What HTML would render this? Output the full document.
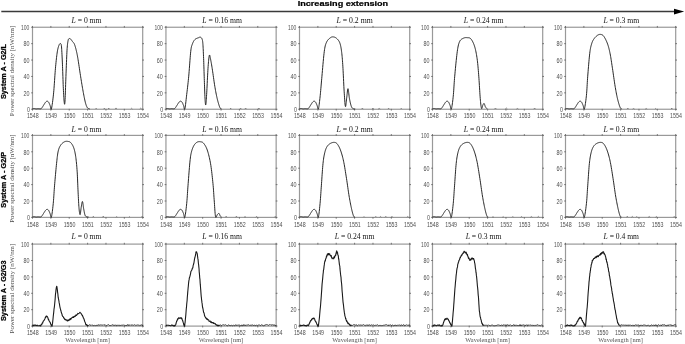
<!DOCTYPE html><html><head><meta charset="utf-8"><style>html,body{margin:0;padding:0;background:#fff;width:685px;height:344px;overflow:hidden}svg{display:block;filter:grayscale(1)}</style></head><body><svg width="685" height="344" viewBox="0 0 685 344">
<rect width="685" height="344" fill="#fff"/>
<line x1="1.3" y1="11.6" x2="675" y2="11.6" stroke="#3a3a3a" stroke-width="1.5"/>
<polygon points="674,8.8 674,14.4 684.2,11.6" fill="#000"/>
<text x="297.7" y="6.2" font-family="Liberation Sans, sans-serif" font-weight="bold" font-size="7" fill="#000" stroke="#000" stroke-width="0.2" textLength="90.5" lengthAdjust="spacingAndGlyphs">Increasing extension</text>
<rect x="32.50" y="27.25" width="110.20" height="82.00" stroke="#999" stroke-width="1.2" fill="none"/>
<path d="M32.50,108.85v1.7M32.50,27.65v-1.7M50.87,108.85v1.7M50.87,27.65v-1.7M69.23,108.85v1.7M69.23,27.65v-1.7M87.60,108.85v1.7M87.60,27.65v-1.7M105.97,108.85v1.7M105.97,27.65v-1.7M124.33,108.85v1.7M124.33,27.65v-1.7M142.70,108.85v1.7M142.70,27.65v-1.7M32.90,27.25h-1.7M142.30,27.25h1.7M32.90,43.65h-1.7M142.30,43.65h1.7M32.90,60.05h-1.7M142.30,60.05h1.7M32.90,76.45h-1.7M142.30,76.45h1.7M32.90,92.85h-1.7M142.30,92.85h1.7M32.90,109.25h-1.7M142.30,109.25h1.7" stroke="#666" stroke-width="0.9" fill="none"/>
<path d="M32.50,108.68 L32.61,108.66 L32.75,108.65 L32.92,108.62 L33.10,108.60 L33.30,108.57 L33.51,108.55 L33.73,108.53 L33.94,108.52 L34.14,108.51 L34.34,108.51 L34.52,108.53 L34.70,108.55 L34.89,108.59 L35.07,108.63 L35.25,108.68 L35.44,108.72 L35.62,108.76 L35.81,108.80 L35.99,108.82 L36.17,108.84 L36.35,108.84 L36.53,108.83 L36.70,108.82 L36.86,108.80 L37.03,108.77 L37.21,108.75 L37.39,108.72 L37.58,108.70 L37.79,108.68 L38.01,108.68 L38.25,108.68 L38.53,108.70 L38.82,108.72 L39.12,108.75 L39.42,108.78 L39.72,108.80 L40.02,108.82 L40.29,108.82 L40.54,108.80 L40.77,108.76 L40.95,108.70 L41.11,108.63 L41.24,108.56 L41.36,108.47 L41.47,108.37 L41.57,108.25 L41.67,108.12 L41.78,107.97 L41.91,107.80 L42.05,107.61 L42.21,107.39 L42.38,107.14 L42.56,106.87 L42.75,106.58 L42.93,106.27 L43.13,105.96 L43.32,105.64 L43.51,105.33 L43.70,105.03 L43.89,104.74 L44.07,104.45 L44.26,104.16 L44.45,103.86 L44.64,103.56 L44.83,103.26 L45.02,102.97 L45.20,102.70 L45.38,102.45 L45.56,102.23 L45.72,102.03 L45.89,101.87 L46.04,101.72 L46.19,101.59 L46.34,101.48 L46.48,101.39 L46.62,101.32 L46.76,101.26 L46.91,101.23 L47.05,101.21 L47.19,101.21 L47.34,101.23 L47.49,101.27 L47.63,101.33 L47.78,101.40 L47.93,101.49 L48.07,101.60 L48.22,101.74 L48.37,101.89 L48.52,102.08 L48.66,102.28 L48.81,102.52 L48.96,102.79 L49.11,103.10 L49.26,103.43 L49.41,103.78 L49.56,104.14 L49.70,104.51 L49.85,104.87 L49.99,105.22 L50.13,105.56 L50.26,105.97 L50.39,106.52 L50.50,107.15 L50.62,107.80 L50.73,108.40 L50.85,108.92 L50.97,109.25 L51.10,109.25 L51.25,109.25 L51.42,108.84 L51.60,108.06 L51.81,107.01 L52.02,105.73 L52.25,104.24 L52.49,102.59 L52.72,100.79 L52.96,98.89 L53.19,96.91 L53.41,94.88 L53.62,92.85 L53.82,90.70 L54.01,88.35 L54.20,85.84 L54.38,83.24 L54.56,80.58 L54.74,77.91 L54.92,75.30 L55.10,72.78 L55.28,70.42 L55.46,68.25 L55.64,66.24 L55.83,64.29 L56.01,62.43 L56.19,60.65 L56.38,58.95 L56.56,57.34 L56.74,55.82 L56.93,54.40 L57.11,53.07 L57.29,51.85 L57.48,50.75 L57.67,49.76 L57.86,48.89 L58.05,48.11 L58.24,47.42 L58.42,46.80 L58.61,46.25 L58.79,45.76 L58.96,45.30 L59.13,44.88 L59.30,44.50 L59.46,44.19 L59.62,43.95 L59.77,43.76 L59.92,43.62 L60.07,43.54 L60.21,43.51 L60.35,43.52 L60.48,43.56 L60.60,43.65 L60.72,43.73 L60.82,43.79 L60.92,43.86 L61.01,43.97 L61.09,44.14 L61.18,44.40 L61.26,44.78 L61.34,45.31 L61.43,46.02 L61.52,46.93 L61.61,48.05 L61.70,49.36 L61.79,50.84 L61.89,52.46 L61.98,54.21 L62.07,56.06 L62.16,58.00 L62.25,60.01 L62.35,62.07 L62.44,64.15 L62.53,66.36 L62.62,68.77 L62.71,71.32 L62.81,73.97 L62.90,76.66 L62.99,79.32 L63.08,81.92 L63.17,84.39 L63.26,86.69 L63.36,88.75 L63.45,90.65 L63.54,92.47 L63.64,94.21 L63.73,95.84 L63.83,97.36 L63.92,98.75 L64.01,99.99 L64.10,101.07 L64.19,101.97 L64.27,102.69 L64.35,103.26 L64.43,103.73 L64.50,104.07 L64.57,104.26 L64.64,104.28 L64.71,104.11 L64.78,103.72 L64.85,103.10 L64.93,102.21 L65.01,101.05 L65.09,99.53 L65.18,97.63 L65.27,95.41 L65.35,92.94 L65.45,90.29 L65.54,87.51 L65.63,84.67 L65.73,81.84 L65.83,79.08 L65.93,76.45 L66.03,73.82 L66.14,71.04 L66.24,68.18 L66.35,65.28 L66.47,62.41 L66.58,59.60 L66.69,56.93 L66.81,54.43 L66.92,52.18 L67.03,50.21 L67.14,48.53 L67.25,47.06 L67.35,45.80 L67.46,44.71 L67.57,43.76 L67.68,42.94 L67.79,42.21 L67.90,41.56 L68.01,40.95 L68.13,40.37 L68.25,39.85 L68.38,39.46 L68.50,39.16 L68.63,38.96 L68.76,38.82 L68.89,38.73 L69.03,38.68 L69.16,38.65 L69.29,38.61 L69.42,38.57 L69.54,38.52 L69.67,38.50 L69.79,38.50 L69.90,38.53 L70.03,38.59 L70.15,38.66 L70.28,38.75 L70.41,38.87 L70.55,39.00 L70.70,39.14 L70.86,39.31 L71.03,39.51 L71.21,39.74 L71.40,39.99 L71.59,40.25 L71.78,40.53 L71.97,40.80 L72.16,41.08 L72.35,41.35 L72.54,41.60 L72.72,41.83 L72.91,42.03 L73.09,42.22 L73.27,42.41 L73.46,42.60 L73.64,42.81 L73.82,43.05 L74.01,43.33 L74.19,43.66 L74.38,44.06 L74.56,44.52 L74.75,45.02 L74.93,45.57 L75.12,46.16 L75.31,46.78 L75.49,47.43 L75.68,48.10 L75.86,48.79 L76.04,49.50 L76.21,50.21 L76.38,50.91 L76.54,51.58 L76.69,52.25 L76.84,52.93 L76.99,53.64 L77.15,54.41 L77.31,55.25 L77.48,56.18 L77.66,57.23 L77.87,58.41 L78.09,59.76 L78.32,61.27 L78.58,62.91 L78.84,64.66 L79.11,66.46 L79.38,68.30 L79.65,70.14 L79.92,71.94 L80.18,73.67 L80.44,75.30 L80.68,76.86 L80.93,78.40 L81.17,79.91 L81.41,81.40 L81.64,82.86 L81.88,84.30 L82.11,85.72 L82.35,87.11 L82.59,88.47 L82.82,89.82 L83.07,91.15 L83.31,92.49 L83.56,93.82 L83.81,95.14 L84.05,96.42 L84.30,97.65 L84.54,98.83 L84.77,99.93 L85.00,100.95 L85.21,101.87 L85.42,102.69 L85.62,103.43 L85.81,104.09 L86.00,104.68 L86.18,105.20 L86.35,105.67 L86.53,106.10 L86.70,106.49 L86.88,106.86 L87.05,107.20 L87.22,107.50 L87.40,107.75 L87.58,107.94 L87.75,108.09 L87.92,108.21 L88.09,108.30 L88.25,108.38 L88.41,108.45 L88.56,108.52 L88.70,108.59 L88.84,108.67 L88.98,108.73 L89.11,108.78 L89.24,108.82 L89.36,108.85 L89.47,108.87 L89.57,108.88 L89.66,108.89 L89.74,108.91 L89.80,108.92" stroke="#1a1a1a" stroke-width="0.95" fill="none" stroke-linejoin="round"/>
<path d="M95.44,109.09L96.14,108.24L96.84,109.09M103.78,109.09L104.28,108.18L104.78,109.09M108.12,109.09L108.75,108.04L109.37,109.09M115.24,109.09L116.00,107.94L116.76,109.09M130.72,109.09L131.59,108.28L132.46,109.09M139.68,109.09L140.70,108.18L141.72,109.09" stroke="#555" stroke-width="0.6" fill="none"/>
<text x="21.00" y="29.95" font-family="Liberation Sans, sans-serif" font-size="6.4" fill="#505050" textLength="8.4" lengthAdjust="spacingAndGlyphs">100</text>
<text x="23.40" y="46.35" font-family="Liberation Sans, sans-serif" font-size="6.4" fill="#505050" textLength="6.0" lengthAdjust="spacingAndGlyphs">80</text>
<text x="23.40" y="62.75" font-family="Liberation Sans, sans-serif" font-size="6.4" fill="#505050" textLength="6.0" lengthAdjust="spacingAndGlyphs">60</text>
<text x="23.40" y="79.15" font-family="Liberation Sans, sans-serif" font-size="6.4" fill="#505050" textLength="6.0" lengthAdjust="spacingAndGlyphs">40</text>
<text x="23.40" y="95.55" font-family="Liberation Sans, sans-serif" font-size="6.4" fill="#505050" textLength="6.0" lengthAdjust="spacingAndGlyphs">20</text>
<text x="26.90" y="111.95" font-family="Liberation Sans, sans-serif" font-size="6.4" fill="#505050" textLength="3.0" lengthAdjust="spacingAndGlyphs">0</text>
<text x="26.90" y="117.95" font-family="Liberation Sans, sans-serif" font-size="6.4" fill="#505050" textLength="11.8" lengthAdjust="spacingAndGlyphs">1548</text>
<text x="45.27" y="117.95" font-family="Liberation Sans, sans-serif" font-size="6.4" fill="#505050" textLength="11.8" lengthAdjust="spacingAndGlyphs">1549</text>
<text x="63.63" y="117.95" font-family="Liberation Sans, sans-serif" font-size="6.4" fill="#505050" textLength="11.8" lengthAdjust="spacingAndGlyphs">1550</text>
<text x="82.00" y="117.95" font-family="Liberation Sans, sans-serif" font-size="6.4" fill="#505050" textLength="11.8" lengthAdjust="spacingAndGlyphs">1551</text>
<text x="100.37" y="117.95" font-family="Liberation Sans, sans-serif" font-size="6.4" fill="#505050" textLength="11.8" lengthAdjust="spacingAndGlyphs">1552</text>
<text x="118.73" y="117.95" font-family="Liberation Sans, sans-serif" font-size="6.4" fill="#505050" textLength="11.8" lengthAdjust="spacingAndGlyphs">1553</text>
<text x="137.10" y="117.95" font-family="Liberation Sans, sans-serif" font-size="6.4" fill="#505050" textLength="11.8" lengthAdjust="spacingAndGlyphs">1554</text>
<text x="71.55" y="22.75" font-family="Liberation Serif, serif" font-size="8.7" fill="#111" textLength="29.9" lengthAdjust="spacingAndGlyphs"><tspan font-style="italic">L</tspan> = 0 mm</text>
<rect x="165.95" y="27.25" width="110.20" height="82.00" stroke="#999" stroke-width="1.2" fill="none"/>
<path d="M165.95,108.85v1.7M165.95,27.65v-1.7M184.32,108.85v1.7M184.32,27.65v-1.7M202.68,108.85v1.7M202.68,27.65v-1.7M221.05,108.85v1.7M221.05,27.65v-1.7M239.42,108.85v1.7M239.42,27.65v-1.7M257.78,108.85v1.7M257.78,27.65v-1.7M276.15,108.85v1.7M276.15,27.65v-1.7M166.35,27.25h-1.7M275.75,27.25h1.7M166.35,43.65h-1.7M275.75,43.65h1.7M166.35,60.05h-1.7M275.75,60.05h1.7M166.35,76.45h-1.7M275.75,76.45h1.7M166.35,92.85h-1.7M275.75,92.85h1.7M166.35,109.25h-1.7M275.75,109.25h1.7" stroke="#666" stroke-width="0.9" fill="none"/>
<path d="M165.95,108.68 L166.06,108.66 L166.20,108.65 L166.37,108.62 L166.55,108.60 L166.75,108.57 L166.96,108.55 L167.18,108.53 L167.39,108.52 L167.59,108.51 L167.79,108.51 L167.97,108.53 L168.15,108.55 L168.34,108.59 L168.52,108.63 L168.70,108.68 L168.89,108.72 L169.07,108.76 L169.26,108.80 L169.44,108.82 L169.62,108.84 L169.80,108.84 L169.98,108.83 L170.15,108.82 L170.31,108.80 L170.48,108.77 L170.66,108.75 L170.84,108.72 L171.03,108.70 L171.24,108.68 L171.46,108.68 L171.70,108.68 L171.98,108.70 L172.27,108.72 L172.57,108.75 L172.87,108.78 L173.17,108.80 L173.47,108.82 L173.74,108.82 L173.99,108.80 L174.22,108.76 L174.40,108.70 L174.56,108.63 L174.69,108.56 L174.81,108.47 L174.92,108.37 L175.02,108.25 L175.12,108.12 L175.23,107.97 L175.36,107.80 L175.50,107.61 L175.66,107.39 L175.83,107.14 L176.01,106.87 L176.20,106.58 L176.38,106.27 L176.58,105.96 L176.77,105.64 L176.96,105.33 L177.15,105.03 L177.34,104.74 L177.52,104.45 L177.71,104.16 L177.90,103.86 L178.09,103.56 L178.28,103.26 L178.47,102.97 L178.65,102.70 L178.83,102.45 L179.01,102.23 L179.17,102.03 L179.34,101.87 L179.49,101.72 L179.64,101.59 L179.79,101.48 L179.93,101.39 L180.07,101.32 L180.21,101.26 L180.36,101.23 L180.50,101.21 L180.64,101.21 L180.79,101.23 L180.94,101.27 L181.08,101.33 L181.23,101.40 L181.38,101.49 L181.52,101.60 L181.67,101.74 L181.82,101.89 L181.97,102.08 L182.11,102.28 L182.26,102.52 L182.41,102.79 L182.56,103.10 L182.71,103.43 L182.86,103.78 L183.01,104.14 L183.15,104.51 L183.30,104.87 L183.44,105.22 L183.58,105.56 L183.72,105.97 L183.84,106.50 L183.96,107.10 L184.08,107.72 L184.20,108.30 L184.32,108.80 L184.45,109.15 L184.58,109.25 L184.72,109.23 L184.87,108.84 L185.03,108.14 L185.20,107.16 L185.37,105.95 L185.55,104.56 L185.74,103.01 L185.93,101.36 L186.12,99.64 L186.32,97.89 L186.51,96.16 L186.70,94.49 L186.90,92.85 L187.10,91.19 L187.30,89.50 L187.50,87.77 L187.70,86.00 L187.91,84.18 L188.11,82.30 L188.32,80.34 L188.52,78.32 L188.72,76.20 L188.93,73.91 L189.13,71.38 L189.34,68.68 L189.55,65.90 L189.76,63.10 L189.96,60.35 L190.17,57.73 L190.36,55.31 L190.56,53.16 L190.74,51.36 L190.92,49.90 L191.08,48.72 L191.24,47.77 L191.39,47.01 L191.54,46.40 L191.69,45.88 L191.85,45.43 L192.01,44.99 L192.20,44.52 L192.40,43.98 L192.61,43.40 L192.84,42.85 L193.07,42.33 L193.31,41.84 L193.56,41.37 L193.82,40.94 L194.09,40.53 L194.37,40.15 L194.66,39.80 L194.97,39.47 L195.30,39.17 L195.67,38.91 L196.05,38.69 L196.46,38.49 L196.86,38.31 L197.27,38.16 L197.65,38.02 L198.02,37.90 L198.35,37.78 L198.64,37.66 L198.89,37.55 L199.10,37.45 L199.29,37.36 L199.45,37.27 L199.60,37.21 L199.73,37.16 L199.86,37.13 L200.00,37.12 L200.14,37.13 L200.30,37.17 L200.46,37.23 L200.64,37.30 L200.81,37.38 L200.99,37.49 L201.17,37.61 L201.34,37.77 L201.51,37.95 L201.67,38.17 L201.81,38.43 L201.95,38.73 L202.07,39.04 L202.18,39.34 L202.28,39.65 L202.38,39.98 L202.47,40.36 L202.55,40.81 L202.63,41.34 L202.71,41.98 L202.79,42.74 L202.87,43.65 L202.95,44.69 L203.03,45.85 L203.10,47.12 L203.17,48.49 L203.25,49.95 L203.32,51.50 L203.39,53.13 L203.46,54.83 L203.53,56.59 L203.60,58.41 L203.68,60.34 L203.75,62.42 L203.82,64.61 L203.90,66.89 L203.97,69.22 L204.04,71.58 L204.12,73.92 L204.19,76.21 L204.26,78.44 L204.34,80.55 L204.41,82.63 L204.48,84.75 L204.56,86.88 L204.63,88.98 L204.70,91.03 L204.78,93.00 L204.85,94.85 L204.92,96.56 L205.00,98.09 L205.07,99.41 L205.14,100.57 L205.21,101.62 L205.29,102.55 L205.36,103.34 L205.43,104.00 L205.50,104.50 L205.57,104.83 L205.65,104.99 L205.72,104.97 L205.81,104.74 L205.89,104.31 L205.97,103.67 L206.06,102.84 L206.14,101.83 L206.23,100.67 L206.32,99.35 L206.42,97.89 L206.51,96.32 L206.62,94.63 L206.72,92.85 L206.84,90.85 L206.96,88.55 L207.08,86.03 L207.21,83.35 L207.34,80.60 L207.48,77.84 L207.61,75.16 L207.75,72.61 L207.88,70.29 L208.01,68.25 L208.14,66.43 L208.27,64.70 L208.40,63.07 L208.53,61.56 L208.66,60.18 L208.79,58.93 L208.92,57.83 L209.05,56.89 L209.17,56.13 L209.30,55.54 L209.41,55.16 L209.52,55.00 L209.62,55.02 L209.71,55.21 L209.81,55.53 L209.91,55.98 L210.02,56.51 L210.13,57.11 L210.26,57.75 L210.40,58.41 L210.55,59.11 L210.71,59.88 L210.87,60.73 L211.04,61.66 L211.22,62.66 L211.41,63.73 L211.61,64.88 L211.81,66.09 L212.02,67.38 L212.23,68.74 L212.46,70.23 L212.70,71.87 L212.96,73.64 L213.22,75.49 L213.49,77.39 L213.75,79.30 L214.02,81.18 L214.29,83.00 L214.55,84.72 L214.81,86.29 L215.05,87.75 L215.29,89.14 L215.53,90.48 L215.76,91.76 L216.00,92.99 L216.23,94.18 L216.47,95.33 L216.71,96.44 L216.95,97.53 L217.19,98.59 L217.45,99.64 L217.71,100.67 L217.98,101.69 L218.25,102.67 L218.52,103.61 L218.79,104.49 L219.05,105.31 L219.31,106.06 L219.54,106.72 L219.76,107.28 L219.97,107.73 L220.18,108.08 L220.38,108.32 L220.57,108.49 L220.75,108.60 L220.92,108.67 L221.07,108.71 L221.21,108.74 L221.32,108.78 L221.42,108.84" stroke="#1a1a1a" stroke-width="0.95" fill="none" stroke-linejoin="round"/>
<path d="M230.17,109.09L230.67,108.15L231.17,109.09M240.07,109.09L240.73,108.21L241.38,109.09M244.86,109.09L245.63,108.03L246.39,109.09M257.98,109.09L258.90,108.02L259.81,109.09" stroke="#555" stroke-width="0.6" fill="none"/>
<text x="154.45" y="29.95" font-family="Liberation Sans, sans-serif" font-size="6.4" fill="#505050" textLength="8.4" lengthAdjust="spacingAndGlyphs">100</text>
<text x="156.85" y="46.35" font-family="Liberation Sans, sans-serif" font-size="6.4" fill="#505050" textLength="6.0" lengthAdjust="spacingAndGlyphs">80</text>
<text x="156.85" y="62.75" font-family="Liberation Sans, sans-serif" font-size="6.4" fill="#505050" textLength="6.0" lengthAdjust="spacingAndGlyphs">60</text>
<text x="156.85" y="79.15" font-family="Liberation Sans, sans-serif" font-size="6.4" fill="#505050" textLength="6.0" lengthAdjust="spacingAndGlyphs">40</text>
<text x="156.85" y="95.55" font-family="Liberation Sans, sans-serif" font-size="6.4" fill="#505050" textLength="6.0" lengthAdjust="spacingAndGlyphs">20</text>
<text x="160.35" y="111.95" font-family="Liberation Sans, sans-serif" font-size="6.4" fill="#505050" textLength="3.0" lengthAdjust="spacingAndGlyphs">0</text>
<text x="160.35" y="117.95" font-family="Liberation Sans, sans-serif" font-size="6.4" fill="#505050" textLength="11.8" lengthAdjust="spacingAndGlyphs">1548</text>
<text x="178.72" y="117.95" font-family="Liberation Sans, sans-serif" font-size="6.4" fill="#505050" textLength="11.8" lengthAdjust="spacingAndGlyphs">1549</text>
<text x="197.08" y="117.95" font-family="Liberation Sans, sans-serif" font-size="6.4" fill="#505050" textLength="11.8" lengthAdjust="spacingAndGlyphs">1550</text>
<text x="215.45" y="117.95" font-family="Liberation Sans, sans-serif" font-size="6.4" fill="#505050" textLength="11.8" lengthAdjust="spacingAndGlyphs">1551</text>
<text x="233.82" y="117.95" font-family="Liberation Sans, sans-serif" font-size="6.4" fill="#505050" textLength="11.8" lengthAdjust="spacingAndGlyphs">1552</text>
<text x="252.18" y="117.95" font-family="Liberation Sans, sans-serif" font-size="6.4" fill="#505050" textLength="11.8" lengthAdjust="spacingAndGlyphs">1553</text>
<text x="270.55" y="117.95" font-family="Liberation Sans, sans-serif" font-size="6.4" fill="#505050" textLength="11.8" lengthAdjust="spacingAndGlyphs">1554</text>
<text x="202.35" y="22.75" font-family="Liberation Serif, serif" font-size="8.7" fill="#111" textLength="39.7" lengthAdjust="spacingAndGlyphs"><tspan font-style="italic">L</tspan> = 0.16 mm</text>
<rect x="299.50" y="27.25" width="110.20" height="82.00" stroke="#999" stroke-width="1.2" fill="none"/>
<path d="M299.50,108.85v1.7M299.50,27.65v-1.7M317.87,108.85v1.7M317.87,27.65v-1.7M336.23,108.85v1.7M336.23,27.65v-1.7M354.60,108.85v1.7M354.60,27.65v-1.7M372.97,108.85v1.7M372.97,27.65v-1.7M391.33,108.85v1.7M391.33,27.65v-1.7M409.70,108.85v1.7M409.70,27.65v-1.7M299.90,27.25h-1.7M409.30,27.25h1.7M299.90,43.65h-1.7M409.30,43.65h1.7M299.90,60.05h-1.7M409.30,60.05h1.7M299.90,76.45h-1.7M409.30,76.45h1.7M299.90,92.85h-1.7M409.30,92.85h1.7M299.90,109.25h-1.7M409.30,109.25h1.7" stroke="#666" stroke-width="0.9" fill="none"/>
<path d="M299.50,108.68 L299.61,108.66 L299.75,108.65 L299.92,108.62 L300.10,108.60 L300.30,108.57 L300.51,108.55 L300.73,108.53 L300.94,108.52 L301.14,108.51 L301.34,108.51 L301.52,108.53 L301.70,108.55 L301.89,108.59 L302.07,108.63 L302.25,108.68 L302.44,108.72 L302.62,108.76 L302.81,108.80 L302.99,108.82 L303.17,108.84 L303.35,108.84 L303.53,108.83 L303.70,108.82 L303.86,108.80 L304.03,108.77 L304.21,108.75 L304.39,108.72 L304.58,108.70 L304.79,108.68 L305.01,108.68 L305.25,108.68 L305.53,108.70 L305.82,108.72 L306.12,108.75 L306.42,108.78 L306.72,108.80 L307.02,108.82 L307.29,108.82 L307.54,108.80 L307.77,108.76 L307.95,108.70 L308.11,108.63 L308.24,108.56 L308.36,108.47 L308.47,108.37 L308.57,108.25 L308.67,108.12 L308.78,107.97 L308.91,107.80 L309.05,107.61 L309.21,107.39 L309.38,107.14 L309.56,106.87 L309.75,106.58 L309.93,106.27 L310.13,105.96 L310.32,105.64 L310.51,105.33 L310.70,105.03 L310.89,104.74 L311.07,104.45 L311.26,104.16 L311.45,103.86 L311.64,103.56 L311.83,103.26 L312.02,102.97 L312.20,102.70 L312.38,102.45 L312.56,102.23 L312.72,102.03 L312.89,101.87 L313.04,101.72 L313.19,101.59 L313.34,101.48 L313.48,101.39 L313.62,101.32 L313.76,101.26 L313.91,101.23 L314.05,101.21 L314.19,101.21 L314.34,101.23 L314.49,101.27 L314.63,101.33 L314.78,101.40 L314.93,101.49 L315.07,101.60 L315.22,101.74 L315.37,101.89 L315.52,102.08 L315.66,102.28 L315.81,102.52 L315.96,102.79 L316.11,103.10 L316.26,103.43 L316.41,103.78 L316.56,104.14 L316.70,104.51 L316.85,104.87 L316.99,105.22 L317.13,105.56 L317.27,105.96 L317.40,106.46 L317.52,107.02 L317.64,107.60 L317.76,108.15 L317.89,108.62 L318.01,108.97 L318.14,109.15 L318.28,109.13 L318.42,108.84 L318.57,108.29 L318.72,107.54 L318.89,106.59 L319.05,105.48 L319.22,104.24 L319.39,102.89 L319.56,101.46 L319.73,99.98 L319.90,98.47 L320.07,96.95 L320.23,95.42 L320.39,93.85 L320.54,92.22 L320.69,90.53 L320.84,88.77 L321.00,86.93 L321.16,85.01 L321.33,83.00 L321.52,80.89 L321.72,78.66 L321.94,76.22 L322.18,73.49 L322.43,70.57 L322.69,67.53 L322.96,64.46 L323.24,61.43 L323.51,58.52 L323.78,55.82 L324.04,53.41 L324.29,51.36 L324.53,49.67 L324.76,48.25 L324.98,47.05 L325.19,46.05 L325.41,45.20 L325.63,44.47 L325.86,43.81 L326.11,43.20 L326.39,42.58 L326.68,41.93 L327.01,41.28 L327.37,40.69 L327.76,40.16 L328.16,39.68 L328.58,39.25 L328.99,38.87 L329.40,38.52 L329.80,38.21 L330.18,37.92 L330.54,37.66 L330.87,37.44 L331.18,37.26 L331.48,37.11 L331.77,37.01 L332.05,36.94 L332.33,36.89 L332.61,36.87 L332.89,36.88 L333.18,36.89 L333.48,36.93 L333.78,36.97 L334.09,37.03 L334.40,37.12 L334.71,37.22 L335.03,37.35 L335.34,37.50 L335.66,37.68 L335.97,37.89 L336.29,38.13 L336.60,38.40 L336.92,38.70 L337.25,39.01 L337.58,39.34 L337.91,39.69 L338.24,40.08 L338.57,40.51 L338.88,40.97 L339.18,41.49 L339.46,42.05 L339.72,42.67 L339.96,43.33 L340.18,44.02 L340.39,44.75 L340.58,45.53 L340.76,46.35 L340.93,47.23 L341.09,48.16 L341.25,49.16 L341.40,50.22 L341.56,51.36 L341.71,52.55 L341.85,53.77 L341.99,55.04 L342.11,56.37 L342.24,57.76 L342.36,59.24 L342.48,60.81 L342.60,62.49 L342.72,64.28 L342.85,66.20 L342.97,68.33 L343.10,70.69 L343.23,73.24 L343.36,75.90 L343.49,78.63 L343.62,81.36 L343.75,84.03 L343.87,86.59 L344.00,88.98 L344.13,91.13 L344.26,93.16 L344.39,95.21 L344.52,97.21 L344.65,99.14 L344.77,100.94 L344.90,102.58 L345.03,104.00 L345.16,105.16 L345.29,106.02 L345.42,106.54 L345.55,106.65 L345.67,106.34 L345.80,105.70 L345.93,104.79 L346.06,103.69 L346.19,102.46 L346.32,101.19 L346.45,99.93 L346.57,98.77 L346.70,97.77 L346.83,96.79 L346.96,95.67 L347.08,94.46 L347.21,93.24 L347.33,92.05 L347.46,90.95 L347.59,90.01 L347.72,89.28 L347.85,88.81 L347.99,88.67 L348.13,88.90 L348.26,89.46 L348.40,90.30 L348.54,91.35 L348.68,92.55 L348.82,93.83 L348.97,95.14 L349.13,96.41 L349.29,97.58 L349.46,98.59 L349.64,99.51 L349.82,100.44 L350.02,101.37 L350.22,102.29 L350.42,103.18 L350.63,104.04 L350.84,104.84 L351.05,105.57 L351.27,106.23 L351.48,106.79 L351.69,107.25 L351.92,107.63 L352.15,107.92 L352.38,108.15 L352.61,108.33 L352.84,108.46 L353.07,108.57 L353.28,108.66 L353.49,108.75 L353.68,108.84 L353.86,108.92 L354.05,108.97 L354.22,108.99 L354.39,108.99 L354.55,108.97 L354.70,108.94 L354.84,108.90 L354.96,108.87 L355.07,108.85 L355.15,108.84" stroke="#1a1a1a" stroke-width="0.95" fill="none" stroke-linejoin="round"/>
<path d="M361.62,109.09L362.36,108.07L363.11,109.09M372.40,109.09L372.92,108.02L373.44,109.09M378.14,109.09L379.22,108.45L380.30,109.09M387.97,109.09L388.62,108.18L389.27,109.09M400.54,109.09L401.23,108.34L401.91,109.09" stroke="#555" stroke-width="0.6" fill="none"/>
<text x="288.00" y="29.95" font-family="Liberation Sans, sans-serif" font-size="6.4" fill="#505050" textLength="8.4" lengthAdjust="spacingAndGlyphs">100</text>
<text x="290.40" y="46.35" font-family="Liberation Sans, sans-serif" font-size="6.4" fill="#505050" textLength="6.0" lengthAdjust="spacingAndGlyphs">80</text>
<text x="290.40" y="62.75" font-family="Liberation Sans, sans-serif" font-size="6.4" fill="#505050" textLength="6.0" lengthAdjust="spacingAndGlyphs">60</text>
<text x="290.40" y="79.15" font-family="Liberation Sans, sans-serif" font-size="6.4" fill="#505050" textLength="6.0" lengthAdjust="spacingAndGlyphs">40</text>
<text x="290.40" y="95.55" font-family="Liberation Sans, sans-serif" font-size="6.4" fill="#505050" textLength="6.0" lengthAdjust="spacingAndGlyphs">20</text>
<text x="293.90" y="111.95" font-family="Liberation Sans, sans-serif" font-size="6.4" fill="#505050" textLength="3.0" lengthAdjust="spacingAndGlyphs">0</text>
<text x="293.90" y="117.95" font-family="Liberation Sans, sans-serif" font-size="6.4" fill="#505050" textLength="11.8" lengthAdjust="spacingAndGlyphs">1548</text>
<text x="312.27" y="117.95" font-family="Liberation Sans, sans-serif" font-size="6.4" fill="#505050" textLength="11.8" lengthAdjust="spacingAndGlyphs">1549</text>
<text x="330.63" y="117.95" font-family="Liberation Sans, sans-serif" font-size="6.4" fill="#505050" textLength="11.8" lengthAdjust="spacingAndGlyphs">1550</text>
<text x="349.00" y="117.95" font-family="Liberation Sans, sans-serif" font-size="6.4" fill="#505050" textLength="11.8" lengthAdjust="spacingAndGlyphs">1551</text>
<text x="367.37" y="117.95" font-family="Liberation Sans, sans-serif" font-size="6.4" fill="#505050" textLength="11.8" lengthAdjust="spacingAndGlyphs">1552</text>
<text x="385.73" y="117.95" font-family="Liberation Sans, sans-serif" font-size="6.4" fill="#505050" textLength="11.8" lengthAdjust="spacingAndGlyphs">1553</text>
<text x="404.10" y="117.95" font-family="Liberation Sans, sans-serif" font-size="6.4" fill="#505050" textLength="11.8" lengthAdjust="spacingAndGlyphs">1554</text>
<text x="336.50" y="22.75" font-family="Liberation Serif, serif" font-size="8.7" fill="#111" textLength="36.2" lengthAdjust="spacingAndGlyphs"><tspan font-style="italic">L</tspan> = 0.2 mm</text>
<rect x="432.50" y="27.25" width="110.20" height="82.00" stroke="#999" stroke-width="1.2" fill="none"/>
<path d="M432.50,108.85v1.7M432.50,27.65v-1.7M450.87,108.85v1.7M450.87,27.65v-1.7M469.23,108.85v1.7M469.23,27.65v-1.7M487.60,108.85v1.7M487.60,27.65v-1.7M505.97,108.85v1.7M505.97,27.65v-1.7M524.33,108.85v1.7M524.33,27.65v-1.7M542.70,108.85v1.7M542.70,27.65v-1.7M432.90,27.25h-1.7M542.30,27.25h1.7M432.90,43.65h-1.7M542.30,43.65h1.7M432.90,60.05h-1.7M542.30,60.05h1.7M432.90,76.45h-1.7M542.30,76.45h1.7M432.90,92.85h-1.7M542.30,92.85h1.7M432.90,109.25h-1.7M542.30,109.25h1.7" stroke="#666" stroke-width="0.9" fill="none"/>
<path d="M432.50,108.68 L432.61,108.66 L432.75,108.65 L432.92,108.62 L433.10,108.60 L433.30,108.57 L433.51,108.55 L433.73,108.53 L433.94,108.52 L434.14,108.51 L434.34,108.51 L434.52,108.53 L434.70,108.55 L434.89,108.59 L435.07,108.63 L435.25,108.68 L435.44,108.72 L435.62,108.76 L435.81,108.80 L435.99,108.82 L436.17,108.84 L436.35,108.84 L436.53,108.83 L436.70,108.82 L436.86,108.80 L437.03,108.77 L437.21,108.75 L437.39,108.72 L437.58,108.70 L437.79,108.68 L438.01,108.68 L438.25,108.68 L438.53,108.70 L438.82,108.72 L439.12,108.75 L439.42,108.78 L439.72,108.80 L440.02,108.82 L440.29,108.82 L440.54,108.80 L440.77,108.76 L440.95,108.70 L441.11,108.63 L441.24,108.56 L441.36,108.47 L441.47,108.37 L441.57,108.25 L441.67,108.12 L441.78,107.97 L441.91,107.80 L442.05,107.61 L442.21,107.39 L442.38,107.14 L442.56,106.87 L442.75,106.58 L442.93,106.27 L443.13,105.96 L443.32,105.64 L443.51,105.33 L443.70,105.03 L443.89,104.74 L444.07,104.45 L444.26,104.16 L444.45,103.86 L444.64,103.56 L444.83,103.26 L445.02,102.97 L445.20,102.70 L445.38,102.45 L445.56,102.23 L445.72,102.03 L445.89,101.87 L446.04,101.72 L446.19,101.59 L446.34,101.48 L446.48,101.39 L446.62,101.32 L446.76,101.26 L446.91,101.23 L447.05,101.21 L447.19,101.21 L447.34,101.23 L447.49,101.27 L447.63,101.33 L447.78,101.40 L447.93,101.49 L448.07,101.60 L448.22,101.74 L448.37,101.89 L448.52,102.08 L448.66,102.28 L448.81,102.52 L448.96,102.79 L449.11,103.10 L449.26,103.43 L449.41,103.78 L449.56,104.14 L449.70,104.51 L449.85,104.87 L449.99,105.22 L450.13,105.56 L450.27,105.96 L450.39,106.47 L450.51,107.05 L450.63,107.64 L450.75,108.20 L450.87,108.68 L451.00,109.03 L451.13,109.21 L451.27,109.16 L451.42,108.84 L451.58,108.25 L451.76,107.44 L451.94,106.43 L452.13,105.25 L452.32,103.94 L452.52,102.50 L452.71,100.98 L452.90,99.39 L453.08,97.77 L453.25,96.13 L453.41,94.45 L453.55,92.69 L453.69,90.84 L453.82,88.92 L453.94,86.93 L454.07,84.88 L454.21,82.77 L454.37,80.62 L454.53,78.43 L454.72,76.20 L454.94,73.85 L455.17,71.31 L455.42,68.64 L455.68,65.90 L455.95,63.16 L456.23,60.46 L456.50,57.87 L456.77,55.45 L457.04,53.26 L457.29,51.36 L457.53,49.73 L457.76,48.31 L457.98,47.08 L458.19,46.00 L458.41,45.05 L458.63,44.21 L458.86,43.45 L459.11,42.76 L459.39,42.09 L459.68,41.44 L460.01,40.83 L460.36,40.31 L460.74,39.88 L461.13,39.51 L461.53,39.21 L461.94,38.95 L462.35,38.73 L462.76,38.53 L463.15,38.34 L463.54,38.16 L463.91,37.99 L464.29,37.85 L464.66,37.75 L465.02,37.68 L465.39,37.63 L465.75,37.60 L466.12,37.60 L466.48,37.61 L466.85,37.63 L467.21,37.66 L467.58,37.69 L467.95,37.70 L468.32,37.71 L468.68,37.74 L469.05,37.79 L469.42,37.88 L469.78,38.02 L470.15,38.23 L470.52,38.51 L470.89,38.89 L471.26,39.36 L471.64,39.89 L472.02,40.49 L472.41,41.16 L472.79,41.88 L473.17,42.65 L473.54,43.49 L473.90,44.37 L474.24,45.30 L474.56,46.27 L474.87,47.30 L475.16,48.38 L475.44,49.51 L475.71,50.69 L475.97,51.92 L476.22,53.21 L476.46,54.54 L476.69,55.92 L476.92,57.35 L477.13,58.82 L477.33,60.34 L477.52,61.91 L477.70,63.52 L477.87,65.19 L478.03,66.90 L478.18,68.66 L478.33,70.47 L478.48,72.33 L478.63,74.24 L478.78,76.20 L478.94,78.30 L479.09,80.56 L479.24,82.95 L479.39,85.40 L479.54,87.87 L479.69,90.30 L479.83,92.64 L479.97,94.84 L480.11,96.84 L480.25,98.59 L480.39,100.14 L480.52,101.57 L480.65,102.88 L480.78,104.06 L480.91,105.11 L481.03,106.04 L481.16,106.84 L481.28,107.50 L481.41,108.03 L481.54,108.43 L481.67,108.63 L481.80,108.59 L481.92,108.36 L482.05,107.98 L482.18,107.51 L482.31,106.97 L482.44,106.43 L482.57,105.91 L482.70,105.47 L482.82,105.15 L482.95,104.90 L483.08,104.64 L483.21,104.38 L483.34,104.14 L483.47,103.92 L483.60,103.73 L483.72,103.59 L483.85,103.50 L483.98,103.47 L484.11,103.51 L484.24,103.64 L484.36,103.87 L484.48,104.17 L484.61,104.53 L484.73,104.92 L484.86,105.33 L484.98,105.74 L485.12,106.13 L485.25,106.49 L485.40,106.79 L485.55,107.05 L485.73,107.31 L485.92,107.56 L486.11,107.80 L486.30,108.02 L486.49,108.23 L486.66,108.41 L486.82,108.58 L486.95,108.72 L487.05,108.84" stroke="#1a1a1a" stroke-width="0.95" fill="none" stroke-linejoin="round"/>
<path d="M494.56,109.09L495.45,108.00L496.35,109.09M505.27,109.09L506.36,108.03L507.46,109.09M516.42,109.09L517.43,108.49L518.44,109.09M533.80,109.09L534.63,108.00L535.45,109.09" stroke="#555" stroke-width="0.6" fill="none"/>
<text x="421.00" y="29.95" font-family="Liberation Sans, sans-serif" font-size="6.4" fill="#505050" textLength="8.4" lengthAdjust="spacingAndGlyphs">100</text>
<text x="423.40" y="46.35" font-family="Liberation Sans, sans-serif" font-size="6.4" fill="#505050" textLength="6.0" lengthAdjust="spacingAndGlyphs">80</text>
<text x="423.40" y="62.75" font-family="Liberation Sans, sans-serif" font-size="6.4" fill="#505050" textLength="6.0" lengthAdjust="spacingAndGlyphs">60</text>
<text x="423.40" y="79.15" font-family="Liberation Sans, sans-serif" font-size="6.4" fill="#505050" textLength="6.0" lengthAdjust="spacingAndGlyphs">40</text>
<text x="423.40" y="95.55" font-family="Liberation Sans, sans-serif" font-size="6.4" fill="#505050" textLength="6.0" lengthAdjust="spacingAndGlyphs">20</text>
<text x="426.90" y="111.95" font-family="Liberation Sans, sans-serif" font-size="6.4" fill="#505050" textLength="3.0" lengthAdjust="spacingAndGlyphs">0</text>
<text x="426.90" y="117.95" font-family="Liberation Sans, sans-serif" font-size="6.4" fill="#505050" textLength="11.8" lengthAdjust="spacingAndGlyphs">1548</text>
<text x="445.27" y="117.95" font-family="Liberation Sans, sans-serif" font-size="6.4" fill="#505050" textLength="11.8" lengthAdjust="spacingAndGlyphs">1549</text>
<text x="463.63" y="117.95" font-family="Liberation Sans, sans-serif" font-size="6.4" fill="#505050" textLength="11.8" lengthAdjust="spacingAndGlyphs">1550</text>
<text x="482.00" y="117.95" font-family="Liberation Sans, sans-serif" font-size="6.4" fill="#505050" textLength="11.8" lengthAdjust="spacingAndGlyphs">1551</text>
<text x="500.37" y="117.95" font-family="Liberation Sans, sans-serif" font-size="6.4" fill="#505050" textLength="11.8" lengthAdjust="spacingAndGlyphs">1552</text>
<text x="518.73" y="117.95" font-family="Liberation Sans, sans-serif" font-size="6.4" fill="#505050" textLength="11.8" lengthAdjust="spacingAndGlyphs">1553</text>
<text x="537.10" y="117.95" font-family="Liberation Sans, sans-serif" font-size="6.4" fill="#505050" textLength="11.8" lengthAdjust="spacingAndGlyphs">1554</text>
<text x="463.75" y="22.75" font-family="Liberation Serif, serif" font-size="8.7" fill="#111" textLength="39.7" lengthAdjust="spacingAndGlyphs"><tspan font-style="italic">L</tspan> = 0.24 mm</text>
<rect x="565.50" y="27.25" width="110.20" height="82.00" stroke="#999" stroke-width="1.2" fill="none"/>
<path d="M565.50,108.85v1.7M565.50,27.65v-1.7M583.87,108.85v1.7M583.87,27.65v-1.7M602.23,108.85v1.7M602.23,27.65v-1.7M620.60,108.85v1.7M620.60,27.65v-1.7M638.97,108.85v1.7M638.97,27.65v-1.7M657.33,108.85v1.7M657.33,27.65v-1.7M675.70,108.85v1.7M675.70,27.65v-1.7M565.90,27.25h-1.7M675.30,27.25h1.7M565.90,43.65h-1.7M675.30,43.65h1.7M565.90,60.05h-1.7M675.30,60.05h1.7M565.90,76.45h-1.7M675.30,76.45h1.7M565.90,92.85h-1.7M675.30,92.85h1.7M565.90,109.25h-1.7M675.30,109.25h1.7" stroke="#666" stroke-width="0.9" fill="none"/>
<path d="M565.50,108.68 L565.61,108.66 L565.75,108.65 L565.92,108.62 L566.10,108.60 L566.30,108.57 L566.51,108.55 L566.73,108.53 L566.94,108.52 L567.14,108.51 L567.34,108.51 L567.52,108.53 L567.70,108.55 L567.89,108.59 L568.07,108.63 L568.25,108.68 L568.44,108.72 L568.62,108.76 L568.81,108.80 L568.99,108.82 L569.17,108.84 L569.35,108.84 L569.53,108.83 L569.70,108.82 L569.86,108.80 L570.03,108.77 L570.21,108.75 L570.39,108.72 L570.58,108.70 L570.79,108.68 L571.01,108.68 L571.25,108.68 L571.53,108.70 L571.82,108.72 L572.12,108.75 L572.42,108.78 L572.72,108.80 L573.02,108.82 L573.29,108.82 L573.54,108.80 L573.77,108.76 L573.95,108.70 L574.11,108.63 L574.24,108.56 L574.36,108.47 L574.47,108.37 L574.57,108.25 L574.67,108.12 L574.78,107.97 L574.91,107.80 L575.05,107.61 L575.21,107.39 L575.38,107.14 L575.56,106.87 L575.75,106.58 L575.93,106.27 L576.13,105.96 L576.32,105.64 L576.51,105.33 L576.70,105.03 L576.89,104.74 L577.07,104.45 L577.26,104.16 L577.45,103.86 L577.64,103.56 L577.83,103.26 L578.02,102.97 L578.20,102.70 L578.38,102.45 L578.56,102.23 L578.72,102.03 L578.89,101.87 L579.04,101.72 L579.19,101.59 L579.34,101.48 L579.48,101.39 L579.62,101.32 L579.76,101.26 L579.91,101.23 L580.05,101.21 L580.19,101.21 L580.34,101.23 L580.49,101.27 L580.63,101.33 L580.78,101.40 L580.93,101.49 L581.07,101.60 L581.22,101.74 L581.37,101.89 L581.52,102.08 L581.66,102.28 L581.81,102.52 L581.96,102.79 L582.11,103.10 L582.26,103.43 L582.41,103.78 L582.56,104.14 L582.70,104.51 L582.85,104.87 L582.99,105.22 L583.13,105.56 L583.26,105.96 L583.39,106.48 L583.51,107.07 L583.62,107.68 L583.74,108.25 L583.86,108.74 L583.98,109.09 L584.12,109.25 L584.26,109.19 L584.42,108.84 L584.59,108.19 L584.79,107.30 L584.99,106.19 L585.21,104.91 L585.43,103.47 L585.65,101.93 L585.86,100.31 L586.07,98.64 L586.26,96.96 L586.44,95.31 L586.59,93.64 L586.73,91.91 L586.85,90.11 L586.97,88.25 L587.08,86.34 L587.19,84.39 L587.31,82.39 L587.43,80.36 L587.57,78.29 L587.72,76.20 L587.90,74.01 L588.08,71.65 L588.28,69.19 L588.49,66.67 L588.70,64.16 L588.91,61.68 L589.13,59.31 L589.34,57.10 L589.55,55.08 L589.74,53.33 L589.93,51.82 L590.11,50.52 L590.29,49.39 L590.47,48.41 L590.64,47.54 L590.82,46.76 L590.99,46.04 L591.18,45.36 L591.38,44.68 L591.58,43.98 L591.79,43.29 L592.00,42.67 L592.22,42.10 L592.43,41.57 L592.66,41.08 L592.89,40.62 L593.14,40.18 L593.40,39.75 L593.68,39.33 L593.97,38.89 L594.29,38.46 L594.63,38.02 L594.99,37.59 L595.36,37.18 L595.75,36.78 L596.14,36.40 L596.53,36.05 L596.91,35.73 L597.28,35.45 L597.64,35.20 L597.99,35.00 L598.33,34.82 L598.67,34.68 L599.01,34.57 L599.34,34.48 L599.67,34.42 L599.99,34.40 L600.32,34.39 L600.63,34.42 L600.95,34.47 L601.25,34.53 L601.55,34.60 L601.83,34.68 L602.11,34.79 L602.39,34.94 L602.68,35.12 L602.96,35.35 L603.26,35.65 L603.56,36.00 L603.89,36.43 L604.23,36.95 L604.59,37.54 L604.97,38.19 L605.36,38.91 L605.75,39.67 L606.13,40.47 L606.52,41.30 L606.88,42.16 L607.23,43.03 L607.56,43.90 L607.86,44.77 L608.15,45.64 L608.42,46.53 L608.68,47.45 L608.93,48.39 L609.17,49.37 L609.41,50.40 L609.65,51.47 L609.89,52.61 L610.13,53.82 L610.38,55.10 L610.62,56.44 L610.86,57.85 L611.09,59.31 L611.32,60.81 L611.56,62.36 L611.79,63.93 L612.03,65.52 L612.27,67.13 L612.52,68.74 L612.77,70.40 L613.02,72.14 L613.28,73.93 L613.54,75.75 L613.80,77.59 L614.07,79.41 L614.33,81.19 L614.58,82.92 L614.84,84.58 L615.09,86.13 L615.34,87.59 L615.58,88.99 L615.81,90.35 L616.05,91.65 L616.28,92.90 L616.52,94.11 L616.75,95.28 L616.99,96.42 L617.23,97.52 L617.48,98.59 L617.73,99.64 L617.99,100.68 L618.26,101.70 L618.54,102.68 L618.81,103.62 L619.08,104.50 L619.34,105.32 L619.59,106.06 L619.83,106.72 L620.05,107.28 L620.26,107.73 L620.46,108.08 L620.66,108.32 L620.86,108.49 L621.04,108.60 L621.20,108.67 L621.36,108.71 L621.49,108.74 L621.61,108.78 L621.70,108.84" stroke="#1a1a1a" stroke-width="0.95" fill="none" stroke-linejoin="round"/>
<path d="M627.00,109.09L627.83,108.05L628.66,109.09M632.55,109.09L633.56,108.55L634.57,109.09M645.23,109.09L646.20,108.54L647.18,109.09M654.96,109.09L655.61,108.50L656.26,109.09M671.30,109.09L671.78,108.02L672.27,109.09" stroke="#555" stroke-width="0.6" fill="none"/>
<text x="554.00" y="29.95" font-family="Liberation Sans, sans-serif" font-size="6.4" fill="#505050" textLength="8.4" lengthAdjust="spacingAndGlyphs">100</text>
<text x="556.40" y="46.35" font-family="Liberation Sans, sans-serif" font-size="6.4" fill="#505050" textLength="6.0" lengthAdjust="spacingAndGlyphs">80</text>
<text x="556.40" y="62.75" font-family="Liberation Sans, sans-serif" font-size="6.4" fill="#505050" textLength="6.0" lengthAdjust="spacingAndGlyphs">60</text>
<text x="556.40" y="79.15" font-family="Liberation Sans, sans-serif" font-size="6.4" fill="#505050" textLength="6.0" lengthAdjust="spacingAndGlyphs">40</text>
<text x="556.40" y="95.55" font-family="Liberation Sans, sans-serif" font-size="6.4" fill="#505050" textLength="6.0" lengthAdjust="spacingAndGlyphs">20</text>
<text x="559.90" y="111.95" font-family="Liberation Sans, sans-serif" font-size="6.4" fill="#505050" textLength="3.0" lengthAdjust="spacingAndGlyphs">0</text>
<text x="559.90" y="117.95" font-family="Liberation Sans, sans-serif" font-size="6.4" fill="#505050" textLength="11.8" lengthAdjust="spacingAndGlyphs">1548</text>
<text x="578.27" y="117.95" font-family="Liberation Sans, sans-serif" font-size="6.4" fill="#505050" textLength="11.8" lengthAdjust="spacingAndGlyphs">1549</text>
<text x="596.63" y="117.95" font-family="Liberation Sans, sans-serif" font-size="6.4" fill="#505050" textLength="11.8" lengthAdjust="spacingAndGlyphs">1550</text>
<text x="615.00" y="117.95" font-family="Liberation Sans, sans-serif" font-size="6.4" fill="#505050" textLength="11.8" lengthAdjust="spacingAndGlyphs">1551</text>
<text x="633.37" y="117.95" font-family="Liberation Sans, sans-serif" font-size="6.4" fill="#505050" textLength="11.8" lengthAdjust="spacingAndGlyphs">1552</text>
<text x="651.73" y="117.95" font-family="Liberation Sans, sans-serif" font-size="6.4" fill="#505050" textLength="11.8" lengthAdjust="spacingAndGlyphs">1553</text>
<text x="670.10" y="117.95" font-family="Liberation Sans, sans-serif" font-size="6.4" fill="#505050" textLength="11.8" lengthAdjust="spacingAndGlyphs">1554</text>
<text x="603.40" y="22.75" font-family="Liberation Serif, serif" font-size="8.7" fill="#111" textLength="35.8" lengthAdjust="spacingAndGlyphs"><tspan font-style="italic">L</tspan> = 0.3 mm</text>
<text transform="translate(5.8,99.00) rotate(-90)" font-family="Liberation Sans, sans-serif" font-weight="bold" font-size="7.0" fill="#000" stroke="#000" stroke-width="0.25" textLength="55.0" lengthAdjust="spacingAndGlyphs">System A - G2/L</text>
<text transform="translate(13.9,116.20) rotate(-90)" font-family="Liberation Serif, serif" font-size="7.1" fill="#4a4a4a" textLength="90.4" lengthAdjust="spacingAndGlyphs">Power spectral density [nW/nm]</text>
<rect x="32.50" y="135.40" width="110.20" height="82.00" stroke="#999" stroke-width="1.2" fill="none"/>
<path d="M32.50,217.00v1.7M32.50,135.80v-1.7M50.87,217.00v1.7M50.87,135.80v-1.7M69.23,217.00v1.7M69.23,135.80v-1.7M87.60,217.00v1.7M87.60,135.80v-1.7M105.97,217.00v1.7M105.97,135.80v-1.7M124.33,217.00v1.7M124.33,135.80v-1.7M142.70,217.00v1.7M142.70,135.80v-1.7M32.90,135.40h-1.7M142.30,135.40h1.7M32.90,151.80h-1.7M142.30,151.80h1.7M32.90,168.20h-1.7M142.30,168.20h1.7M32.90,184.60h-1.7M142.30,184.60h1.7M32.90,201.00h-1.7M142.30,201.00h1.7M32.90,217.40h-1.7M142.30,217.40h1.7" stroke="#666" stroke-width="0.9" fill="none"/>
<path d="M32.50,216.83 L32.61,216.81 L32.75,216.80 L32.92,216.77 L33.10,216.75 L33.30,216.72 L33.51,216.70 L33.73,216.68 L33.94,216.67 L34.14,216.66 L34.34,216.66 L34.52,216.68 L34.70,216.70 L34.89,216.74 L35.07,216.78 L35.25,216.83 L35.44,216.87 L35.62,216.91 L35.81,216.95 L35.99,216.97 L36.17,216.99 L36.35,216.99 L36.53,216.98 L36.70,216.97 L36.86,216.95 L37.03,216.92 L37.21,216.90 L37.39,216.87 L37.58,216.85 L37.79,216.83 L38.01,216.83 L38.25,216.83 L38.53,216.85 L38.82,216.87 L39.12,216.90 L39.42,216.93 L39.72,216.95 L40.02,216.97 L40.29,216.97 L40.54,216.95 L40.77,216.91 L40.95,216.85 L41.11,216.78 L41.24,216.71 L41.36,216.62 L41.47,216.52 L41.57,216.40 L41.67,216.27 L41.78,216.12 L41.91,215.95 L42.05,215.76 L42.21,215.54 L42.38,215.29 L42.56,215.02 L42.75,214.73 L42.93,214.42 L43.13,214.11 L43.32,213.79 L43.51,213.48 L43.70,213.18 L43.89,212.89 L44.07,212.60 L44.26,212.31 L44.45,212.01 L44.64,211.71 L44.83,211.41 L45.02,211.12 L45.20,210.85 L45.38,210.60 L45.56,210.38 L45.72,210.18 L45.89,210.02 L46.04,209.87 L46.19,209.74 L46.34,209.63 L46.48,209.54 L46.62,209.47 L46.76,209.41 L46.91,209.38 L47.05,209.36 L47.19,209.36 L47.34,209.38 L47.49,209.42 L47.63,209.48 L47.78,209.55 L47.93,209.64 L48.07,209.75 L48.22,209.89 L48.37,210.04 L48.52,210.23 L48.66,210.43 L48.81,210.67 L48.96,210.94 L49.11,211.25 L49.26,211.58 L49.41,211.93 L49.56,212.29 L49.70,212.66 L49.85,213.02 L49.99,213.37 L50.13,213.71 L50.27,214.11 L50.39,214.63 L50.51,215.22 L50.63,215.83 L50.75,216.40 L50.87,216.89 L51.00,217.24 L51.13,217.40 L51.27,217.34 L51.42,216.99 L51.58,216.34 L51.76,215.43 L51.95,214.30 L52.14,212.99 L52.34,211.53 L52.53,209.97 L52.73,208.35 L52.91,206.70 L53.09,205.05 L53.25,203.46 L53.40,201.88 L53.53,200.27 L53.66,198.62 L53.77,196.93 L53.89,195.19 L54.00,193.42 L54.12,191.59 L54.24,189.72 L54.38,187.80 L54.54,185.83 L54.71,183.74 L54.90,181.51 L55.10,179.17 L55.31,176.77 L55.53,174.35 L55.74,171.96 L55.96,169.64 L56.17,167.43 L56.37,165.38 L56.56,163.53 L56.74,161.86 L56.90,160.31 L57.05,158.89 L57.20,157.56 L57.35,156.33 L57.50,155.17 L57.66,154.09 L57.83,153.06 L58.01,152.09 L58.21,151.14 L58.43,150.26 L58.65,149.47 L58.88,148.75 L59.12,148.09 L59.37,147.50 L59.63,146.94 L59.90,146.43 L60.19,145.94 L60.48,145.46 L60.78,144.99 L61.11,144.54 L61.45,144.12 L61.82,143.73 L62.19,143.37 L62.58,143.04 L62.96,142.73 L63.35,142.46 L63.73,142.21 L64.10,141.99 L64.46,141.80 L64.81,141.63 L65.15,141.51 L65.49,141.42 L65.82,141.35 L66.16,141.31 L66.49,141.30 L66.81,141.30 L67.13,141.32 L67.45,141.35 L67.76,141.39 L68.07,141.43 L68.38,141.47 L68.67,141.52 L68.97,141.58 L69.26,141.67 L69.54,141.78 L69.83,141.92 L70.12,142.11 L70.41,142.34 L70.70,142.62 L71.00,142.94 L71.31,143.30 L71.61,143.70 L71.92,144.13 L72.23,144.60 L72.53,145.11 L72.83,145.66 L73.11,146.25 L73.38,146.87 L73.64,147.54 L73.88,148.23 L74.11,148.95 L74.33,149.69 L74.54,150.48 L74.74,151.30 L74.94,152.18 L75.12,153.11 L75.31,154.11 L75.49,155.17 L75.66,156.31 L75.83,157.53 L76.00,158.81 L76.16,160.16 L76.32,161.57 L76.47,163.03 L76.61,164.56 L76.75,166.13 L76.88,167.76 L77.01,169.43 L77.13,171.15 L77.25,172.95 L77.35,174.87 L77.45,176.86 L77.54,178.92 L77.62,181.01 L77.71,183.11 L77.79,185.19 L77.87,187.23 L77.96,189.20 L78.05,191.08 L78.14,192.91 L78.23,194.74 L78.32,196.57 L78.41,198.37 L78.50,200.12 L78.59,201.81 L78.68,203.41 L78.77,204.92 L78.87,206.31 L78.97,207.56 L79.07,208.72 L79.18,209.81 L79.28,210.84 L79.40,211.77 L79.51,212.60 L79.62,213.32 L79.73,213.90 L79.85,214.33 L79.96,214.60 L80.07,214.69 L80.18,214.55 L80.29,214.16 L80.39,213.57 L80.50,212.82 L80.61,211.95 L80.72,211.02 L80.83,210.07 L80.94,209.15 L81.05,208.29 L81.17,207.56 L81.29,206.85 L81.42,206.06 L81.54,205.23 L81.67,204.39 L81.80,203.60 L81.93,202.88 L82.07,202.27 L82.20,201.81 L82.33,201.54 L82.46,201.49 L82.58,201.71 L82.71,202.17 L82.83,202.82 L82.95,203.63 L83.08,204.55 L83.20,205.53 L83.33,206.53 L83.46,207.50 L83.60,208.41 L83.74,209.20 L83.89,209.94 L84.03,210.70 L84.17,211.47 L84.31,212.23 L84.45,212.98 L84.61,213.69 L84.78,214.35 L84.97,214.96 L85.17,215.49 L85.40,215.92 L85.66,216.26 L85.98,216.52 L86.32,216.69 L86.69,216.81 L87.06,216.88 L87.42,216.91 L87.76,216.93 L88.07,216.94 L88.33,216.95 L88.52,216.99" stroke="#1a1a1a" stroke-width="0.95" fill="none" stroke-linejoin="round"/>
<path d="M92.66,217.24L93.34,216.27L94.01,217.24M102.47,217.24L103.26,216.10L104.04,217.24M116.10,217.24L116.61,216.54L117.12,217.24M128.87,217.24L129.46,216.72L130.04,217.24M141.50,217.24L142.06,216.34L142.62,217.24" stroke="#555" stroke-width="0.6" fill="none"/>
<text x="21.00" y="138.10" font-family="Liberation Sans, sans-serif" font-size="6.4" fill="#505050" textLength="8.4" lengthAdjust="spacingAndGlyphs">100</text>
<text x="23.40" y="154.50" font-family="Liberation Sans, sans-serif" font-size="6.4" fill="#505050" textLength="6.0" lengthAdjust="spacingAndGlyphs">80</text>
<text x="23.40" y="170.90" font-family="Liberation Sans, sans-serif" font-size="6.4" fill="#505050" textLength="6.0" lengthAdjust="spacingAndGlyphs">60</text>
<text x="23.40" y="187.30" font-family="Liberation Sans, sans-serif" font-size="6.4" fill="#505050" textLength="6.0" lengthAdjust="spacingAndGlyphs">40</text>
<text x="23.40" y="203.70" font-family="Liberation Sans, sans-serif" font-size="6.4" fill="#505050" textLength="6.0" lengthAdjust="spacingAndGlyphs">20</text>
<text x="26.90" y="220.10" font-family="Liberation Sans, sans-serif" font-size="6.4" fill="#505050" textLength="3.0" lengthAdjust="spacingAndGlyphs">0</text>
<text x="26.90" y="226.70" font-family="Liberation Sans, sans-serif" font-size="6.4" fill="#505050" textLength="11.8" lengthAdjust="spacingAndGlyphs">1548</text>
<text x="45.27" y="226.70" font-family="Liberation Sans, sans-serif" font-size="6.4" fill="#505050" textLength="11.8" lengthAdjust="spacingAndGlyphs">1549</text>
<text x="63.63" y="226.70" font-family="Liberation Sans, sans-serif" font-size="6.4" fill="#505050" textLength="11.8" lengthAdjust="spacingAndGlyphs">1550</text>
<text x="82.00" y="226.70" font-family="Liberation Sans, sans-serif" font-size="6.4" fill="#505050" textLength="11.8" lengthAdjust="spacingAndGlyphs">1551</text>
<text x="100.37" y="226.70" font-family="Liberation Sans, sans-serif" font-size="6.4" fill="#505050" textLength="11.8" lengthAdjust="spacingAndGlyphs">1552</text>
<text x="118.73" y="226.70" font-family="Liberation Sans, sans-serif" font-size="6.4" fill="#505050" textLength="11.8" lengthAdjust="spacingAndGlyphs">1553</text>
<text x="137.10" y="226.70" font-family="Liberation Sans, sans-serif" font-size="6.4" fill="#505050" textLength="11.8" lengthAdjust="spacingAndGlyphs">1554</text>
<text x="71.55" y="131.80" font-family="Liberation Serif, serif" font-size="8.7" fill="#111" textLength="29.9" lengthAdjust="spacingAndGlyphs"><tspan font-style="italic">L</tspan> = 0 mm</text>
<rect x="165.95" y="135.40" width="110.20" height="82.00" stroke="#999" stroke-width="1.2" fill="none"/>
<path d="M165.95,217.00v1.7M165.95,135.80v-1.7M184.32,217.00v1.7M184.32,135.80v-1.7M202.68,217.00v1.7M202.68,135.80v-1.7M221.05,217.00v1.7M221.05,135.80v-1.7M239.42,217.00v1.7M239.42,135.80v-1.7M257.78,217.00v1.7M257.78,135.80v-1.7M276.15,217.00v1.7M276.15,135.80v-1.7M166.35,135.40h-1.7M275.75,135.40h1.7M166.35,151.80h-1.7M275.75,151.80h1.7M166.35,168.20h-1.7M275.75,168.20h1.7M166.35,184.60h-1.7M275.75,184.60h1.7M166.35,201.00h-1.7M275.75,201.00h1.7M166.35,217.40h-1.7M275.75,217.40h1.7" stroke="#666" stroke-width="0.9" fill="none"/>
<path d="M165.95,216.83 L166.06,216.81 L166.20,216.80 L166.37,216.77 L166.55,216.75 L166.75,216.72 L166.96,216.70 L167.18,216.68 L167.39,216.67 L167.59,216.66 L167.79,216.66 L167.97,216.68 L168.15,216.70 L168.34,216.74 L168.52,216.78 L168.70,216.83 L168.89,216.87 L169.07,216.91 L169.26,216.95 L169.44,216.97 L169.62,216.99 L169.80,216.99 L169.98,216.98 L170.15,216.97 L170.31,216.95 L170.48,216.92 L170.66,216.90 L170.84,216.87 L171.03,216.85 L171.24,216.83 L171.46,216.83 L171.70,216.83 L171.98,216.85 L172.27,216.87 L172.57,216.90 L172.87,216.93 L173.17,216.95 L173.47,216.97 L173.74,216.97 L173.99,216.95 L174.22,216.91 L174.40,216.85 L174.56,216.78 L174.69,216.71 L174.81,216.62 L174.92,216.52 L175.02,216.40 L175.12,216.27 L175.23,216.12 L175.36,215.95 L175.50,215.76 L175.66,215.54 L175.83,215.29 L176.01,215.02 L176.20,214.73 L176.38,214.42 L176.58,214.11 L176.77,213.79 L176.96,213.48 L177.15,213.18 L177.34,212.89 L177.52,212.60 L177.71,212.31 L177.90,212.01 L178.09,211.71 L178.28,211.41 L178.47,211.12 L178.65,210.85 L178.83,210.60 L179.01,210.38 L179.17,210.18 L179.34,210.02 L179.49,209.87 L179.64,209.74 L179.79,209.63 L179.93,209.54 L180.07,209.47 L180.21,209.41 L180.36,209.38 L180.50,209.36 L180.64,209.36 L180.79,209.38 L180.94,209.42 L181.08,209.48 L181.23,209.55 L181.38,209.64 L181.52,209.75 L181.67,209.89 L181.82,210.04 L181.97,210.23 L182.11,210.43 L182.26,210.67 L182.41,210.94 L182.56,211.25 L182.71,211.58 L182.86,211.93 L183.01,212.29 L183.15,212.66 L183.30,213.02 L183.44,213.37 L183.58,213.71 L183.72,214.11 L183.84,214.63 L183.96,215.22 L184.08,215.83 L184.20,216.40 L184.32,216.89 L184.45,217.24 L184.58,217.40 L184.72,217.34 L184.87,216.99 L185.03,216.34 L185.21,215.43 L185.40,214.30 L185.59,212.99 L185.79,211.53 L185.98,209.97 L186.18,208.35 L186.36,206.70 L186.54,205.05 L186.70,203.46 L186.85,201.90 L186.98,200.31 L187.11,198.70 L187.22,197.05 L187.34,195.35 L187.45,193.60 L187.57,191.78 L187.69,189.88 L187.83,187.90 L187.99,185.83 L188.16,183.57 L188.35,181.08 L188.55,178.43 L188.76,175.69 L188.98,172.92 L189.19,170.19 L189.41,167.56 L189.62,165.11 L189.82,162.89 L190.01,160.98 L190.19,159.38 L190.35,158.00 L190.50,156.81 L190.65,155.79 L190.80,154.90 L190.95,154.09 L191.11,153.35 L191.28,152.64 L191.46,151.91 L191.66,151.14 L191.88,150.37 L192.11,149.63 L192.35,148.93 L192.60,148.26 L192.86,147.64 L193.12,147.05 L193.39,146.49 L193.67,145.96 L193.95,145.46 L194.23,144.99 L194.52,144.56 L194.82,144.16 L195.13,143.79 L195.44,143.45 L195.75,143.15 L196.07,142.87 L196.39,142.63 L196.71,142.41 L197.03,142.21 L197.36,142.04 L197.68,141.90 L198.01,141.79 L198.35,141.72 L198.68,141.67 L199.02,141.64 L199.36,141.64 L199.69,141.66 L200.02,141.69 L200.35,141.74 L200.66,141.80 L200.97,141.85 L201.26,141.90 L201.55,141.94 L201.83,142.01 L202.11,142.09 L202.39,142.22 L202.68,142.38 L202.97,142.61 L203.28,142.90 L203.60,143.27 L203.94,143.71 L204.30,144.18 L204.66,144.71 L205.04,145.28 L205.42,145.91 L205.80,146.60 L206.18,147.36 L206.55,148.19 L206.92,149.09 L207.27,150.08 L207.62,151.14 L207.97,152.28 L208.32,153.49 L208.67,154.76 L209.01,156.11 L209.34,157.52 L209.67,158.99 L209.98,160.53 L210.29,162.12 L210.58,163.77 L210.86,165.52 L211.13,167.39 L211.40,169.35 L211.66,171.38 L211.90,173.46 L212.14,175.56 L212.36,177.65 L212.58,179.71 L212.78,181.70 L212.97,183.62 L213.14,185.46 L213.30,187.28 L213.44,189.07 L213.56,190.83 L213.68,192.57 L213.79,194.29 L213.90,195.99 L214.01,197.67 L214.13,199.34 L214.25,201.00 L214.38,202.72 L214.50,204.53 L214.62,206.39 L214.74,208.24 L214.86,210.05 L214.99,211.76 L215.11,213.33 L215.25,214.70 L215.39,215.82 L215.54,216.66 L215.70,217.16 L215.88,217.36 L216.06,217.30 L216.24,217.04 L216.44,216.64 L216.63,216.16 L216.82,215.65 L217.01,215.17 L217.20,214.78 L217.38,214.53 L217.55,214.37 L217.73,214.19 L217.90,214.03 L218.08,213.87 L218.25,213.72 L218.42,213.60 L218.58,213.50 L218.74,213.44 L218.89,213.43 L219.03,213.46 L219.16,213.56 L219.28,213.73 L219.39,213.94 L219.50,214.19 L219.60,214.47 L219.70,214.76 L219.80,215.04 L219.91,215.32 L220.02,215.56 L220.13,215.76 L220.26,215.93 L220.40,216.09 L220.54,216.25 L220.69,216.39 L220.84,216.52 L220.99,216.64 L221.12,216.74 L221.24,216.84 L221.34,216.92 L221.42,216.99" stroke="#1a1a1a" stroke-width="0.95" fill="none" stroke-linejoin="round"/>
<path d="M225.49,217.24L226.15,216.17L226.81,217.24M235.70,217.24L236.40,216.16L237.11,217.24M244.15,217.24L245.02,216.40L245.90,217.24M255.70,217.24L256.56,216.38L257.42,217.24M274.47,217.24L275.21,216.41L275.94,217.24" stroke="#555" stroke-width="0.6" fill="none"/>
<text x="154.45" y="138.10" font-family="Liberation Sans, sans-serif" font-size="6.4" fill="#505050" textLength="8.4" lengthAdjust="spacingAndGlyphs">100</text>
<text x="156.85" y="154.50" font-family="Liberation Sans, sans-serif" font-size="6.4" fill="#505050" textLength="6.0" lengthAdjust="spacingAndGlyphs">80</text>
<text x="156.85" y="170.90" font-family="Liberation Sans, sans-serif" font-size="6.4" fill="#505050" textLength="6.0" lengthAdjust="spacingAndGlyphs">60</text>
<text x="156.85" y="187.30" font-family="Liberation Sans, sans-serif" font-size="6.4" fill="#505050" textLength="6.0" lengthAdjust="spacingAndGlyphs">40</text>
<text x="156.85" y="203.70" font-family="Liberation Sans, sans-serif" font-size="6.4" fill="#505050" textLength="6.0" lengthAdjust="spacingAndGlyphs">20</text>
<text x="160.35" y="220.10" font-family="Liberation Sans, sans-serif" font-size="6.4" fill="#505050" textLength="3.0" lengthAdjust="spacingAndGlyphs">0</text>
<text x="160.35" y="226.70" font-family="Liberation Sans, sans-serif" font-size="6.4" fill="#505050" textLength="11.8" lengthAdjust="spacingAndGlyphs">1548</text>
<text x="178.72" y="226.70" font-family="Liberation Sans, sans-serif" font-size="6.4" fill="#505050" textLength="11.8" lengthAdjust="spacingAndGlyphs">1549</text>
<text x="197.08" y="226.70" font-family="Liberation Sans, sans-serif" font-size="6.4" fill="#505050" textLength="11.8" lengthAdjust="spacingAndGlyphs">1550</text>
<text x="215.45" y="226.70" font-family="Liberation Sans, sans-serif" font-size="6.4" fill="#505050" textLength="11.8" lengthAdjust="spacingAndGlyphs">1551</text>
<text x="233.82" y="226.70" font-family="Liberation Sans, sans-serif" font-size="6.4" fill="#505050" textLength="11.8" lengthAdjust="spacingAndGlyphs">1552</text>
<text x="252.18" y="226.70" font-family="Liberation Sans, sans-serif" font-size="6.4" fill="#505050" textLength="11.8" lengthAdjust="spacingAndGlyphs">1553</text>
<text x="270.55" y="226.70" font-family="Liberation Sans, sans-serif" font-size="6.4" fill="#505050" textLength="11.8" lengthAdjust="spacingAndGlyphs">1554</text>
<text x="202.35" y="131.80" font-family="Liberation Serif, serif" font-size="8.7" fill="#111" textLength="39.7" lengthAdjust="spacingAndGlyphs"><tspan font-style="italic">L</tspan> = 0.16 mm</text>
<rect x="299.50" y="135.40" width="110.20" height="82.00" stroke="#999" stroke-width="1.2" fill="none"/>
<path d="M299.50,217.00v1.7M299.50,135.80v-1.7M317.87,217.00v1.7M317.87,135.80v-1.7M336.23,217.00v1.7M336.23,135.80v-1.7M354.60,217.00v1.7M354.60,135.80v-1.7M372.97,217.00v1.7M372.97,135.80v-1.7M391.33,217.00v1.7M391.33,135.80v-1.7M409.70,217.00v1.7M409.70,135.80v-1.7M299.90,135.40h-1.7M409.30,135.40h1.7M299.90,151.80h-1.7M409.30,151.80h1.7M299.90,168.20h-1.7M409.30,168.20h1.7M299.90,184.60h-1.7M409.30,184.60h1.7M299.90,201.00h-1.7M409.30,201.00h1.7M299.90,217.40h-1.7M409.30,217.40h1.7" stroke="#666" stroke-width="0.9" fill="none"/>
<path d="M299.50,216.83 L299.61,216.81 L299.75,216.80 L299.92,216.77 L300.10,216.75 L300.30,216.72 L300.51,216.70 L300.73,216.68 L300.94,216.67 L301.14,216.66 L301.34,216.66 L301.52,216.68 L301.70,216.70 L301.89,216.74 L302.07,216.78 L302.25,216.83 L302.44,216.87 L302.62,216.91 L302.81,216.95 L302.99,216.97 L303.17,216.99 L303.35,216.99 L303.53,216.98 L303.70,216.97 L303.86,216.95 L304.03,216.92 L304.21,216.90 L304.39,216.87 L304.58,216.85 L304.79,216.83 L305.01,216.83 L305.25,216.83 L305.53,216.85 L305.82,216.87 L306.12,216.90 L306.42,216.93 L306.72,216.95 L307.02,216.97 L307.29,216.97 L307.54,216.95 L307.77,216.91 L307.95,216.85 L308.11,216.78 L308.24,216.71 L308.36,216.62 L308.47,216.52 L308.57,216.40 L308.67,216.27 L308.78,216.12 L308.91,215.95 L309.05,215.76 L309.21,215.54 L309.38,215.29 L309.56,215.02 L309.75,214.73 L309.93,214.42 L310.13,214.11 L310.32,213.79 L310.51,213.48 L310.70,213.18 L310.89,212.89 L311.07,212.60 L311.26,212.31 L311.45,212.01 L311.64,211.71 L311.83,211.41 L312.02,211.12 L312.20,210.85 L312.38,210.60 L312.56,210.38 L312.72,210.18 L312.89,210.02 L313.04,209.87 L313.19,209.74 L313.34,209.63 L313.48,209.54 L313.62,209.47 L313.76,209.41 L313.91,209.38 L314.05,209.36 L314.19,209.36 L314.34,209.38 L314.49,209.42 L314.63,209.48 L314.78,209.55 L314.93,209.64 L315.07,209.75 L315.22,209.89 L315.37,210.04 L315.52,210.23 L315.66,210.43 L315.81,210.67 L315.96,210.94 L316.11,211.25 L316.26,211.58 L316.41,211.93 L316.56,212.29 L316.70,212.66 L316.85,213.02 L316.99,213.37 L317.13,213.71 L317.27,214.11 L317.40,214.63 L317.52,215.22 L317.64,215.83 L317.76,216.40 L317.89,216.89 L318.01,217.24 L318.14,217.40 L318.28,217.34 L318.42,216.99 L318.57,216.34 L318.73,215.43 L318.90,214.30 L319.07,212.99 L319.24,211.53 L319.42,209.97 L319.59,208.35 L319.76,206.70 L319.92,205.05 L320.07,203.46 L320.21,201.88 L320.35,200.27 L320.47,198.62 L320.59,196.93 L320.71,195.19 L320.83,193.42 L320.96,191.59 L321.08,189.72 L321.21,187.80 L321.36,185.83 L321.51,183.74 L321.66,181.49 L321.82,179.13 L321.98,176.71 L322.15,174.28 L322.32,171.87 L322.49,169.55 L322.66,167.35 L322.83,165.33 L323.01,163.53 L323.18,161.93 L323.36,160.49 L323.53,159.18 L323.70,157.98 L323.88,156.89 L324.06,155.88 L324.25,154.93 L324.44,154.03 L324.64,153.15 L324.85,152.29 L325.06,151.47 L325.27,150.71 L325.49,150.01 L325.72,149.37 L325.95,148.78 L326.19,148.23 L326.43,147.71 L326.69,147.23 L326.96,146.76 L327.23,146.31 L327.53,145.88 L327.83,145.49 L328.15,145.14 L328.47,144.81 L328.81,144.52 L329.15,144.25 L329.49,144.00 L329.84,143.77 L330.19,143.56 L330.54,143.35 L330.90,143.16 L331.26,142.99 L331.64,142.84 L332.02,142.70 L332.40,142.59 L332.78,142.49 L333.15,142.42 L333.52,142.38 L333.87,142.36 L334.21,142.37 L334.53,142.40 L334.84,142.43 L335.14,142.48 L335.42,142.55 L335.71,142.66 L335.99,142.80 L336.27,142.98 L336.55,143.21 L336.85,143.49 L337.15,143.85 L337.47,144.25 L337.79,144.71 L338.12,145.21 L338.46,145.76 L338.79,146.36 L339.13,147.00 L339.47,147.70 L339.80,148.44 L340.13,149.23 L340.46,150.08 L340.78,150.97 L341.10,151.89 L341.41,152.87 L341.73,153.89 L342.04,154.96 L342.35,156.08 L342.66,157.27 L342.97,158.52 L343.28,159.84 L343.58,161.23 L343.88,162.72 L344.19,164.31 L344.49,165.99 L344.79,167.73 L345.08,169.53 L345.38,171.36 L345.67,173.20 L345.96,175.04 L346.24,176.85 L346.52,178.61 L346.79,180.37 L347.06,182.17 L347.32,183.98 L347.58,185.80 L347.84,187.61 L348.09,189.40 L348.34,191.14 L348.59,192.84 L348.84,194.46 L349.09,196.00 L349.34,197.47 L349.59,198.89 L349.83,200.26 L350.08,201.58 L350.32,202.85 L350.56,204.07 L350.79,205.25 L351.03,206.37 L351.25,207.44 L351.48,208.46 L351.70,209.44 L351.92,210.38 L352.13,211.27 L352.35,212.11 L352.56,212.91 L352.76,213.64 L352.96,214.31 L353.15,214.92 L353.33,215.46 L353.50,215.92 L353.66,216.29 L353.82,216.56 L353.98,216.75 L354.13,216.86 L354.27,216.92 L354.40,216.95 L354.52,216.95 L354.62,216.95 L354.71,216.96 L354.78,216.99" stroke="#1a1a1a" stroke-width="0.95" fill="none" stroke-linejoin="round"/>
<path d="M363.35,217.24L364.01,216.59L364.66,217.24M374.98,217.24L375.79,216.40L376.60,217.24M379.69,217.24L380.52,216.47L381.35,217.24M384.94,217.24L385.80,216.34L386.67,217.24M391.19,217.24L391.95,216.33L392.71,217.24M406.83,217.24L407.74,216.51L408.66,217.24" stroke="#555" stroke-width="0.6" fill="none"/>
<text x="288.00" y="138.10" font-family="Liberation Sans, sans-serif" font-size="6.4" fill="#505050" textLength="8.4" lengthAdjust="spacingAndGlyphs">100</text>
<text x="290.40" y="154.50" font-family="Liberation Sans, sans-serif" font-size="6.4" fill="#505050" textLength="6.0" lengthAdjust="spacingAndGlyphs">80</text>
<text x="290.40" y="170.90" font-family="Liberation Sans, sans-serif" font-size="6.4" fill="#505050" textLength="6.0" lengthAdjust="spacingAndGlyphs">60</text>
<text x="290.40" y="187.30" font-family="Liberation Sans, sans-serif" font-size="6.4" fill="#505050" textLength="6.0" lengthAdjust="spacingAndGlyphs">40</text>
<text x="290.40" y="203.70" font-family="Liberation Sans, sans-serif" font-size="6.4" fill="#505050" textLength="6.0" lengthAdjust="spacingAndGlyphs">20</text>
<text x="293.90" y="220.10" font-family="Liberation Sans, sans-serif" font-size="6.4" fill="#505050" textLength="3.0" lengthAdjust="spacingAndGlyphs">0</text>
<text x="293.90" y="226.70" font-family="Liberation Sans, sans-serif" font-size="6.4" fill="#505050" textLength="11.8" lengthAdjust="spacingAndGlyphs">1548</text>
<text x="312.27" y="226.70" font-family="Liberation Sans, sans-serif" font-size="6.4" fill="#505050" textLength="11.8" lengthAdjust="spacingAndGlyphs">1549</text>
<text x="330.63" y="226.70" font-family="Liberation Sans, sans-serif" font-size="6.4" fill="#505050" textLength="11.8" lengthAdjust="spacingAndGlyphs">1550</text>
<text x="349.00" y="226.70" font-family="Liberation Sans, sans-serif" font-size="6.4" fill="#505050" textLength="11.8" lengthAdjust="spacingAndGlyphs">1551</text>
<text x="367.37" y="226.70" font-family="Liberation Sans, sans-serif" font-size="6.4" fill="#505050" textLength="11.8" lengthAdjust="spacingAndGlyphs">1552</text>
<text x="385.73" y="226.70" font-family="Liberation Sans, sans-serif" font-size="6.4" fill="#505050" textLength="11.8" lengthAdjust="spacingAndGlyphs">1553</text>
<text x="404.10" y="226.70" font-family="Liberation Sans, sans-serif" font-size="6.4" fill="#505050" textLength="11.8" lengthAdjust="spacingAndGlyphs">1554</text>
<text x="336.50" y="131.80" font-family="Liberation Serif, serif" font-size="8.7" fill="#111" textLength="36.2" lengthAdjust="spacingAndGlyphs"><tspan font-style="italic">L</tspan> = 0.2 mm</text>
<rect x="432.50" y="135.40" width="110.20" height="82.00" stroke="#999" stroke-width="1.2" fill="none"/>
<path d="M432.50,217.00v1.7M432.50,135.80v-1.7M450.87,217.00v1.7M450.87,135.80v-1.7M469.23,217.00v1.7M469.23,135.80v-1.7M487.60,217.00v1.7M487.60,135.80v-1.7M505.97,217.00v1.7M505.97,135.80v-1.7M524.33,217.00v1.7M524.33,135.80v-1.7M542.70,217.00v1.7M542.70,135.80v-1.7M432.90,135.40h-1.7M542.30,135.40h1.7M432.90,151.80h-1.7M542.30,151.80h1.7M432.90,168.20h-1.7M542.30,168.20h1.7M432.90,184.60h-1.7M542.30,184.60h1.7M432.90,201.00h-1.7M542.30,201.00h1.7M432.90,217.40h-1.7M542.30,217.40h1.7" stroke="#666" stroke-width="0.9" fill="none"/>
<path d="M432.50,216.83 L432.61,216.81 L432.75,216.80 L432.92,216.77 L433.10,216.75 L433.30,216.72 L433.51,216.70 L433.73,216.68 L433.94,216.67 L434.14,216.66 L434.34,216.66 L434.52,216.68 L434.70,216.70 L434.89,216.74 L435.07,216.78 L435.25,216.83 L435.44,216.87 L435.62,216.91 L435.81,216.95 L435.99,216.97 L436.17,216.99 L436.35,216.99 L436.53,216.98 L436.70,216.97 L436.86,216.95 L437.03,216.92 L437.21,216.90 L437.39,216.87 L437.58,216.85 L437.79,216.83 L438.01,216.83 L438.25,216.83 L438.53,216.85 L438.82,216.87 L439.12,216.90 L439.42,216.93 L439.72,216.95 L440.02,216.97 L440.29,216.97 L440.54,216.95 L440.77,216.91 L440.95,216.85 L441.11,216.78 L441.24,216.71 L441.36,216.62 L441.47,216.52 L441.57,216.40 L441.67,216.27 L441.78,216.12 L441.91,215.95 L442.05,215.76 L442.21,215.54 L442.38,215.29 L442.56,215.02 L442.75,214.73 L442.93,214.42 L443.13,214.11 L443.32,213.79 L443.51,213.48 L443.70,213.18 L443.89,212.89 L444.07,212.60 L444.26,212.31 L444.45,212.01 L444.64,211.71 L444.83,211.41 L445.02,211.12 L445.20,210.85 L445.38,210.60 L445.56,210.38 L445.72,210.18 L445.89,210.02 L446.04,209.87 L446.19,209.74 L446.34,209.63 L446.48,209.54 L446.62,209.47 L446.76,209.41 L446.91,209.38 L447.05,209.36 L447.19,209.36 L447.34,209.38 L447.49,209.42 L447.63,209.48 L447.78,209.55 L447.93,209.64 L448.07,209.75 L448.22,209.89 L448.37,210.04 L448.52,210.23 L448.66,210.43 L448.81,210.67 L448.96,210.94 L449.11,211.25 L449.26,211.58 L449.41,211.93 L449.56,212.29 L449.70,212.66 L449.85,213.02 L449.99,213.37 L450.13,213.71 L450.27,214.11 L450.39,214.63 L450.51,215.22 L450.63,215.83 L450.75,216.40 L450.87,216.89 L451.00,217.24 L451.13,217.40 L451.27,217.34 L451.42,216.99 L451.58,216.34 L451.76,215.43 L451.95,214.30 L452.14,212.99 L452.34,211.53 L452.53,209.97 L452.73,208.35 L452.91,206.70 L453.09,205.05 L453.25,203.46 L453.40,201.88 L453.54,200.27 L453.67,198.62 L453.79,196.93 L453.91,195.19 L454.03,193.42 L454.14,191.59 L454.27,189.72 L454.40,187.80 L454.54,185.83 L454.69,183.74 L454.84,181.49 L455.00,179.13 L455.17,176.71 L455.33,174.28 L455.50,171.87 L455.67,169.55 L455.84,167.35 L456.02,165.33 L456.19,163.53 L456.37,161.93 L456.54,160.49 L456.71,159.18 L456.89,157.98 L457.07,156.89 L457.25,155.88 L457.43,154.93 L457.62,154.03 L457.82,153.15 L458.03,152.29 L458.24,151.47 L458.46,150.71 L458.68,150.01 L458.90,149.37 L459.13,148.78 L459.37,148.23 L459.62,147.71 L459.87,147.23 L460.14,146.76 L460.42,146.31 L460.71,145.88 L461.01,145.49 L461.32,145.14 L461.65,144.81 L461.98,144.52 L462.32,144.25 L462.66,144.00 L463.01,143.77 L463.37,143.56 L463.72,143.35 L464.09,143.16 L464.47,142.99 L464.87,142.84 L465.27,142.70 L465.67,142.59 L466.08,142.49 L466.47,142.42 L466.86,142.38 L467.23,142.36 L467.58,142.37 L467.91,142.40 L468.22,142.43 L468.52,142.48 L468.80,142.55 L469.08,142.66 L469.36,142.80 L469.64,142.98 L469.92,143.21 L470.21,143.49 L470.52,143.85 L470.84,144.25 L471.16,144.71 L471.49,145.21 L471.82,145.76 L472.16,146.36 L472.50,147.00 L472.84,147.70 L473.17,148.44 L473.50,149.23 L473.82,150.08 L474.15,150.97 L474.46,151.89 L474.78,152.87 L475.10,153.89 L475.41,154.96 L475.72,156.08 L476.03,157.27 L476.34,158.52 L476.64,159.84 L476.95,161.23 L477.25,162.72 L477.55,164.31 L477.85,165.99 L478.15,167.73 L478.45,169.53 L478.75,171.36 L479.04,173.20 L479.32,175.04 L479.61,176.85 L479.89,178.61 L480.16,180.37 L480.43,182.17 L480.69,183.98 L480.95,185.80 L481.21,187.61 L481.46,189.40 L481.71,191.14 L481.96,192.84 L482.21,194.46 L482.46,196.00 L482.71,197.47 L482.95,198.89 L483.20,200.26 L483.44,201.58 L483.69,202.85 L483.93,204.07 L484.16,205.25 L484.39,206.37 L484.62,207.44 L484.84,208.46 L485.07,209.44 L485.28,210.38 L485.50,211.27 L485.71,212.11 L485.92,212.91 L486.13,213.64 L486.32,214.31 L486.51,214.92 L486.69,215.46 L486.87,215.92 L487.03,216.29 L487.19,216.56 L487.35,216.75 L487.49,216.86 L487.63,216.92 L487.76,216.95 L487.88,216.95 L487.99,216.95 L488.08,216.96 L488.15,216.99" stroke="#1a1a1a" stroke-width="0.95" fill="none" stroke-linejoin="round"/>
<path d="M492.11,217.24L493.00,216.70L493.89,217.24M502.37,217.24L503.12,216.58L503.88,217.24M512.10,217.24L512.80,216.53L513.49,217.24M520.68,217.24L521.52,216.50L522.37,217.24M530.43,217.24L531.39,216.50L532.34,217.24M537.46,217.24L538.39,216.37L539.32,217.24" stroke="#555" stroke-width="0.6" fill="none"/>
<text x="421.00" y="138.10" font-family="Liberation Sans, sans-serif" font-size="6.4" fill="#505050" textLength="8.4" lengthAdjust="spacingAndGlyphs">100</text>
<text x="423.40" y="154.50" font-family="Liberation Sans, sans-serif" font-size="6.4" fill="#505050" textLength="6.0" lengthAdjust="spacingAndGlyphs">80</text>
<text x="423.40" y="170.90" font-family="Liberation Sans, sans-serif" font-size="6.4" fill="#505050" textLength="6.0" lengthAdjust="spacingAndGlyphs">60</text>
<text x="423.40" y="187.30" font-family="Liberation Sans, sans-serif" font-size="6.4" fill="#505050" textLength="6.0" lengthAdjust="spacingAndGlyphs">40</text>
<text x="423.40" y="203.70" font-family="Liberation Sans, sans-serif" font-size="6.4" fill="#505050" textLength="6.0" lengthAdjust="spacingAndGlyphs">20</text>
<text x="426.90" y="220.10" font-family="Liberation Sans, sans-serif" font-size="6.4" fill="#505050" textLength="3.0" lengthAdjust="spacingAndGlyphs">0</text>
<text x="426.90" y="226.70" font-family="Liberation Sans, sans-serif" font-size="6.4" fill="#505050" textLength="11.8" lengthAdjust="spacingAndGlyphs">1548</text>
<text x="445.27" y="226.70" font-family="Liberation Sans, sans-serif" font-size="6.4" fill="#505050" textLength="11.8" lengthAdjust="spacingAndGlyphs">1549</text>
<text x="463.63" y="226.70" font-family="Liberation Sans, sans-serif" font-size="6.4" fill="#505050" textLength="11.8" lengthAdjust="spacingAndGlyphs">1550</text>
<text x="482.00" y="226.70" font-family="Liberation Sans, sans-serif" font-size="6.4" fill="#505050" textLength="11.8" lengthAdjust="spacingAndGlyphs">1551</text>
<text x="500.37" y="226.70" font-family="Liberation Sans, sans-serif" font-size="6.4" fill="#505050" textLength="11.8" lengthAdjust="spacingAndGlyphs">1552</text>
<text x="518.73" y="226.70" font-family="Liberation Sans, sans-serif" font-size="6.4" fill="#505050" textLength="11.8" lengthAdjust="spacingAndGlyphs">1553</text>
<text x="537.10" y="226.70" font-family="Liberation Sans, sans-serif" font-size="6.4" fill="#505050" textLength="11.8" lengthAdjust="spacingAndGlyphs">1554</text>
<text x="463.75" y="131.80" font-family="Liberation Serif, serif" font-size="8.7" fill="#111" textLength="39.7" lengthAdjust="spacingAndGlyphs"><tspan font-style="italic">L</tspan> = 0.24 mm</text>
<rect x="565.50" y="135.40" width="110.20" height="82.00" stroke="#999" stroke-width="1.2" fill="none"/>
<path d="M565.50,217.00v1.7M565.50,135.80v-1.7M583.87,217.00v1.7M583.87,135.80v-1.7M602.23,217.00v1.7M602.23,135.80v-1.7M620.60,217.00v1.7M620.60,135.80v-1.7M638.97,217.00v1.7M638.97,135.80v-1.7M657.33,217.00v1.7M657.33,135.80v-1.7M675.70,217.00v1.7M675.70,135.80v-1.7M565.90,135.40h-1.7M675.30,135.40h1.7M565.90,151.80h-1.7M675.30,151.80h1.7M565.90,168.20h-1.7M675.30,168.20h1.7M565.90,184.60h-1.7M675.30,184.60h1.7M565.90,201.00h-1.7M675.30,201.00h1.7M565.90,217.40h-1.7M675.30,217.40h1.7" stroke="#666" stroke-width="0.9" fill="none"/>
<path d="M565.50,216.83 L565.61,216.81 L565.75,216.80 L565.92,216.77 L566.10,216.75 L566.30,216.72 L566.51,216.70 L566.73,216.68 L566.94,216.67 L567.14,216.66 L567.34,216.66 L567.52,216.68 L567.70,216.70 L567.89,216.74 L568.07,216.78 L568.25,216.83 L568.44,216.87 L568.62,216.91 L568.81,216.95 L568.99,216.97 L569.17,216.99 L569.35,216.99 L569.53,216.98 L569.70,216.97 L569.86,216.95 L570.03,216.92 L570.21,216.90 L570.39,216.87 L570.58,216.85 L570.79,216.83 L571.01,216.83 L571.25,216.83 L571.53,216.85 L571.82,216.87 L572.12,216.90 L572.42,216.93 L572.72,216.95 L573.02,216.97 L573.29,216.97 L573.54,216.95 L573.77,216.91 L573.95,216.85 L574.11,216.78 L574.24,216.71 L574.36,216.62 L574.47,216.52 L574.57,216.40 L574.67,216.27 L574.78,216.12 L574.91,215.95 L575.05,215.76 L575.21,215.54 L575.38,215.29 L575.56,215.02 L575.75,214.73 L575.93,214.42 L576.13,214.11 L576.32,213.79 L576.51,213.48 L576.70,213.18 L576.89,212.89 L577.07,212.60 L577.26,212.31 L577.45,212.01 L577.64,211.71 L577.83,211.41 L578.02,211.12 L578.20,210.85 L578.38,210.60 L578.56,210.38 L578.72,210.18 L578.89,210.02 L579.04,209.87 L579.19,209.74 L579.34,209.63 L579.48,209.54 L579.62,209.47 L579.76,209.41 L579.91,209.38 L580.05,209.36 L580.19,209.36 L580.34,209.38 L580.49,209.42 L580.63,209.48 L580.78,209.55 L580.93,209.64 L581.07,209.75 L581.22,209.89 L581.37,210.04 L581.52,210.23 L581.66,210.43 L581.81,210.67 L581.96,210.94 L582.11,211.25 L582.26,211.58 L582.41,211.93 L582.56,212.29 L582.70,212.66 L582.85,213.02 L582.99,213.37 L583.13,213.71 L583.26,214.11 L583.39,214.63 L583.51,215.22 L583.62,215.83 L583.74,216.40 L583.86,216.89 L583.98,217.24 L584.12,217.40 L584.26,217.34 L584.42,216.99 L584.59,216.34 L584.79,215.43 L584.99,214.30 L585.21,212.99 L585.43,211.53 L585.65,209.97 L585.86,208.35 L586.07,206.70 L586.26,205.05 L586.44,203.46 L586.59,201.88 L586.74,200.27 L586.87,198.62 L586.99,196.93 L587.10,195.19 L587.22,193.42 L587.33,191.59 L587.45,189.72 L587.58,187.80 L587.72,185.83 L587.87,183.74 L588.03,181.49 L588.19,179.13 L588.35,176.71 L588.52,174.28 L588.68,171.87 L588.86,169.55 L589.03,167.35 L589.20,165.33 L589.38,163.53 L589.55,161.93 L589.72,160.49 L589.90,159.18 L590.07,157.98 L590.25,156.89 L590.43,155.88 L590.62,154.93 L590.81,154.03 L591.01,153.15 L591.21,152.29 L591.43,151.47 L591.64,150.71 L591.86,150.01 L592.08,149.37 L592.32,148.78 L592.55,148.23 L592.80,147.71 L593.06,147.23 L593.32,146.76 L593.60,146.31 L593.89,145.88 L594.19,145.49 L594.51,145.14 L594.83,144.81 L595.16,144.52 L595.50,144.25 L595.85,144.00 L596.20,143.77 L596.55,143.56 L596.91,143.35 L597.27,143.16 L597.66,142.99 L598.05,142.84 L598.45,142.70 L598.86,142.59 L599.26,142.49 L599.66,142.42 L600.04,142.38 L600.41,142.36 L600.76,142.37 L601.09,142.40 L601.40,142.43 L601.70,142.48 L601.99,142.55 L602.27,142.66 L602.54,142.80 L602.82,142.98 L603.11,143.21 L603.40,143.49 L603.70,143.85 L604.02,144.25 L604.34,144.71 L604.67,145.21 L605.01,145.76 L605.34,146.36 L605.68,147.00 L606.02,147.70 L606.35,148.44 L606.68,149.23 L607.01,150.08 L607.33,150.97 L607.65,151.89 L607.96,152.87 L608.28,153.89 L608.59,154.96 L608.90,156.08 L609.21,157.27 L609.52,158.52 L609.83,159.84 L610.13,161.23 L610.43,162.72 L610.74,164.31 L611.04,165.99 L611.34,167.73 L611.63,169.53 L611.93,171.36 L612.22,173.20 L612.51,175.04 L612.79,176.85 L613.07,178.61 L613.34,180.37 L613.61,182.17 L613.87,183.98 L614.13,185.80 L614.39,187.61 L614.64,189.40 L614.89,191.14 L615.14,192.84 L615.39,194.46 L615.64,196.00 L615.89,197.47 L616.14,198.89 L616.38,200.26 L616.63,201.58 L616.87,202.85 L617.11,204.07 L617.35,205.25 L617.58,206.37 L617.81,207.44 L618.03,208.46 L618.25,209.44 L618.47,210.38 L618.68,211.27 L618.90,212.11 L619.11,212.91 L619.31,213.64 L619.51,214.31 L619.70,214.92 L619.88,215.46 L620.05,215.92 L620.21,216.29 L620.37,216.56 L620.53,216.75 L620.68,216.86 L620.82,216.92 L620.95,216.95 L621.07,216.95 L621.17,216.95 L621.26,216.96 L621.33,216.99" stroke="#1a1a1a" stroke-width="0.95" fill="none" stroke-linejoin="round"/>
<path d="M626.66,217.24L627.28,216.22L627.89,217.24M631.41,217.24L632.32,216.46L633.22,217.24M636.02,217.24L636.70,216.53L637.37,217.24M648.22,217.24L649.23,216.46L650.24,217.24M655.53,217.24L656.41,216.52L657.29,217.24M673.61,217.24L674.22,216.45L674.82,217.24" stroke="#555" stroke-width="0.6" fill="none"/>
<text x="554.00" y="138.10" font-family="Liberation Sans, sans-serif" font-size="6.4" fill="#505050" textLength="8.4" lengthAdjust="spacingAndGlyphs">100</text>
<text x="556.40" y="154.50" font-family="Liberation Sans, sans-serif" font-size="6.4" fill="#505050" textLength="6.0" lengthAdjust="spacingAndGlyphs">80</text>
<text x="556.40" y="170.90" font-family="Liberation Sans, sans-serif" font-size="6.4" fill="#505050" textLength="6.0" lengthAdjust="spacingAndGlyphs">60</text>
<text x="556.40" y="187.30" font-family="Liberation Sans, sans-serif" font-size="6.4" fill="#505050" textLength="6.0" lengthAdjust="spacingAndGlyphs">40</text>
<text x="556.40" y="203.70" font-family="Liberation Sans, sans-serif" font-size="6.4" fill="#505050" textLength="6.0" lengthAdjust="spacingAndGlyphs">20</text>
<text x="559.90" y="220.10" font-family="Liberation Sans, sans-serif" font-size="6.4" fill="#505050" textLength="3.0" lengthAdjust="spacingAndGlyphs">0</text>
<text x="559.90" y="226.70" font-family="Liberation Sans, sans-serif" font-size="6.4" fill="#505050" textLength="11.8" lengthAdjust="spacingAndGlyphs">1548</text>
<text x="578.27" y="226.70" font-family="Liberation Sans, sans-serif" font-size="6.4" fill="#505050" textLength="11.8" lengthAdjust="spacingAndGlyphs">1549</text>
<text x="596.63" y="226.70" font-family="Liberation Sans, sans-serif" font-size="6.4" fill="#505050" textLength="11.8" lengthAdjust="spacingAndGlyphs">1550</text>
<text x="615.00" y="226.70" font-family="Liberation Sans, sans-serif" font-size="6.4" fill="#505050" textLength="11.8" lengthAdjust="spacingAndGlyphs">1551</text>
<text x="633.37" y="226.70" font-family="Liberation Sans, sans-serif" font-size="6.4" fill="#505050" textLength="11.8" lengthAdjust="spacingAndGlyphs">1552</text>
<text x="651.73" y="226.70" font-family="Liberation Sans, sans-serif" font-size="6.4" fill="#505050" textLength="11.8" lengthAdjust="spacingAndGlyphs">1553</text>
<text x="670.10" y="226.70" font-family="Liberation Sans, sans-serif" font-size="6.4" fill="#505050" textLength="11.8" lengthAdjust="spacingAndGlyphs">1554</text>
<text x="603.40" y="131.80" font-family="Liberation Serif, serif" font-size="8.7" fill="#111" textLength="35.8" lengthAdjust="spacingAndGlyphs"><tspan font-style="italic">L</tspan> = 0.3 mm</text>
<text transform="translate(5.8,207.70) rotate(-90)" font-family="Liberation Sans, sans-serif" font-weight="bold" font-size="7.0" fill="#000" stroke="#000" stroke-width="0.25" textLength="55.8" lengthAdjust="spacingAndGlyphs">System A - G2/P</text>
<text transform="translate(13.9,222.80) rotate(-90)" font-family="Liberation Serif, serif" font-size="7.1" fill="#4a4a4a" textLength="88.4" lengthAdjust="spacingAndGlyphs">Power spectral density [nW/nm]</text>
<rect x="32.50" y="244.10" width="110.20" height="82.00" stroke="#999" stroke-width="1.2" fill="none"/>
<path d="M32.50,325.70v1.7M32.50,244.50v-1.7M50.87,325.70v1.7M50.87,244.50v-1.7M69.23,325.70v1.7M69.23,244.50v-1.7M87.60,325.70v1.7M87.60,244.50v-1.7M105.97,325.70v1.7M105.97,244.50v-1.7M124.33,325.70v1.7M124.33,244.50v-1.7M142.70,325.70v1.7M142.70,244.50v-1.7M32.90,244.10h-1.7M142.30,244.10h1.7M32.90,260.50h-1.7M142.30,260.50h1.7M32.90,276.90h-1.7M142.30,276.90h1.7M32.90,293.30h-1.7M142.30,293.30h1.7M32.90,309.70h-1.7M142.30,309.70h1.7M32.90,326.10h-1.7M142.30,326.10h1.7" stroke="#666" stroke-width="0.9" fill="none"/>
<path d="M32.50,325.41 L32.71,325.79 L32.98,325.06 L33.30,325.01 L33.66,325.74 L34.05,325.61 L34.46,324.98 L34.89,325.15 L35.32,324.94 L35.75,325.46 L36.17,325.71 L36.60,325.54 L37.06,325.03 L37.54,325.71 L38.03,325.71 L38.53,325.71 L39.02,325.77 L39.49,325.81 L39.95,325.21 L40.38,326.00 L40.77,326.01 L41.11,324.69 L41.43,324.45 L41.72,323.95 L41.99,324.16 L42.25,323.10 L42.49,322.64 L42.74,322.95 L42.99,321.85 L43.25,321.26 L43.52,320.99 L43.81,320.66 L44.10,320.35 L44.39,319.67 L44.68,319.17 L44.98,318.73 L45.27,317.56 L45.57,317.41 L45.87,316.42 L46.16,317.04 L46.46,315.96 L46.76,316.29 L47.06,316.28 L47.36,316.69 L47.66,317.17 L47.96,318.11 L48.26,319.37 L48.56,319.16 L48.84,320.44 L49.13,320.88 L49.40,320.99 L49.67,321.66 L49.94,322.33 L50.22,322.29 L50.49,323.24 L50.75,324.12 L51.00,324.76 L51.23,324.57 L51.45,325.45 L51.63,325.48 L51.78,326.10 L51.89,326.10 L51.96,326.10 L51.98,326.10 L51.98,326.10 L51.97,326.10 L51.96,326.10 L51.96,326.10 L51.98,326.10 L52.04,326.10 L52.15,325.95 L52.31,324.40 L52.51,323.65 L52.73,321.41 L52.98,319.19 L53.24,316.50 L53.51,314.14 L53.79,311.58 L54.05,308.79 L54.31,307.37 L54.54,305.21 L54.76,303.05 L54.97,300.84 L55.18,298.62 L55.39,295.30 L55.60,293.24 L55.80,292.09 L55.99,289.81 L56.19,288.53 L56.37,287.43 L56.56,286.75 L56.74,286.29 L56.91,286.72 L57.07,287.74 L57.23,289.00 L57.39,290.14 L57.54,291.83 L57.70,292.84 L57.87,294.15 L58.03,295.92 L58.21,297.47 L58.40,298.46 L58.59,299.38 L58.78,300.28 L58.97,301.25 L59.17,302.88 L59.37,303.56 L59.58,304.91 L59.79,306.24 L60.01,307.37 L60.23,308.23 L60.47,308.96 L60.71,310.23 L60.95,310.83 L61.20,312.00 L61.46,313.10 L61.72,313.59 L61.99,314.19 L62.26,315.63 L62.53,315.90 L62.81,316.51 L63.09,316.54 L63.38,316.97 L63.68,318.05 L63.98,317.84 L64.29,318.30 L64.59,319.22 L64.89,319.25 L65.19,319.89 L65.47,319.31 L65.74,319.68 L66.00,319.59 L66.24,319.84 L66.46,320.08 L66.68,320.07 L66.89,320.30 L67.11,320.84 L67.34,320.27 L67.58,320.90 L67.84,320.68 L68.13,319.88 L68.45,320.61 L68.78,320.41 L69.13,320.23 L69.50,319.13 L69.88,319.71 L70.26,319.66 L70.65,318.47 L71.04,319.06 L71.42,317.98 L71.80,317.95 L72.18,317.53 L72.56,317.17 L72.93,317.37 L73.31,316.88 L73.69,317.51 L74.07,316.42 L74.46,316.47 L74.85,315.97 L75.25,316.41 L75.66,315.40 L76.09,314.87 L76.53,315.50 L76.99,314.79 L77.46,314.09 L77.92,313.37 L78.39,313.66 L78.84,313.41 L79.27,313.09 L79.69,312.53 L80.07,312.36 L80.42,312.89 L80.75,313.14 L81.06,313.41 L81.35,313.85 L81.63,314.22 L81.90,315.11 L82.17,315.17 L82.44,315.20 L82.72,316.43 L83.01,316.63 L83.31,317.95 L83.61,318.09 L83.92,318.83 L84.23,319.78 L84.54,320.83 L84.84,321.72 L85.13,322.34 L85.42,322.79 L85.69,324.28 L85.95,324.84 L86.20,324.46 L86.44,324.54 L86.68,325.18 L86.92,325.38 L87.14,325.13 L87.35,325.76 L87.54,325.67 L87.71,325.75 L87.85,325.31 L87.97,325.66" stroke="#1a1a1a" stroke-width="1.1" fill="none" stroke-linejoin="round"/>
<path d="M87.97,325.44 L88.52,325.57 L89.07,325.00 L89.62,324.68 L90.17,325.49 L90.72,324.99 L91.27,325.35 L91.82,324.80 L92.38,325.13 L92.93,325.53 L93.48,325.59 L94.03,325.83 L94.58,325.26 L95.13,325.38 L95.68,325.64 L96.23,325.41 L96.78,325.46 L97.33,324.90 L97.89,325.68 L98.44,324.63 L98.99,325.26 L99.54,325.12 L100.09,325.28 L100.64,324.83 L101.19,324.84 L101.74,325.17 L102.29,325.26 L102.84,324.97 L103.40,324.80 L103.95,325.36 L104.50,324.95 L105.05,324.67 L105.60,325.28 L106.15,325.57 L106.70,325.57 L107.25,324.97 L107.80,325.02 L108.35,324.67 L108.91,324.80 L109.46,325.56 L110.01,325.62 L110.56,325.54 L111.11,325.62 L111.66,324.99 L112.21,324.80 L112.76,324.75 L113.31,325.54 L113.86,324.79 L114.42,325.47 L114.97,325.33 L115.52,324.96 L116.07,325.75 L116.62,325.74 L117.17,324.83 L117.72,325.50 L118.27,325.42 L118.82,325.14 L119.37,325.02 L119.93,325.85 L120.48,325.44 L121.03,325.32 L121.58,325.26 L122.13,325.60 L122.68,325.13 L123.23,324.68 L123.78,325.37 L124.33,325.18 L124.88,325.71 L125.44,325.52 L125.99,325.04 L126.54,325.72 L127.09,324.76 L127.64,324.74 L128.19,325.73 L128.74,324.70 L129.29,325.39 L129.84,324.90 L130.39,324.92 L130.95,325.49 L131.50,325.02 L132.05,325.05 L132.60,324.86 L133.15,325.53 L133.70,324.93 L134.25,324.67 L134.80,325.03 L135.35,325.19 L135.90,325.71 L136.46,325.25 L137.01,325.42 L137.56,324.97 L138.11,325.02 L138.66,325.16 L139.21,325.63 L139.76,325.06 L140.31,325.08 L140.86,325.63 L141.41,324.76 L141.97,325.05 L142.52,325.70 L142.70,324.71" stroke="#222" stroke-width="0.85" fill="none" stroke-linejoin="round"/>
<text x="21.00" y="246.80" font-family="Liberation Sans, sans-serif" font-size="6.4" fill="#505050" textLength="8.4" lengthAdjust="spacingAndGlyphs">100</text>
<text x="23.40" y="263.20" font-family="Liberation Sans, sans-serif" font-size="6.4" fill="#505050" textLength="6.0" lengthAdjust="spacingAndGlyphs">80</text>
<text x="23.40" y="279.60" font-family="Liberation Sans, sans-serif" font-size="6.4" fill="#505050" textLength="6.0" lengthAdjust="spacingAndGlyphs">60</text>
<text x="23.40" y="296.00" font-family="Liberation Sans, sans-serif" font-size="6.4" fill="#505050" textLength="6.0" lengthAdjust="spacingAndGlyphs">40</text>
<text x="23.40" y="312.40" font-family="Liberation Sans, sans-serif" font-size="6.4" fill="#505050" textLength="6.0" lengthAdjust="spacingAndGlyphs">20</text>
<text x="26.90" y="328.80" font-family="Liberation Sans, sans-serif" font-size="6.4" fill="#505050" textLength="3.0" lengthAdjust="spacingAndGlyphs">0</text>
<text x="26.90" y="334.70" font-family="Liberation Sans, sans-serif" font-size="6.4" fill="#505050" textLength="11.8" lengthAdjust="spacingAndGlyphs">1548</text>
<text x="45.27" y="334.70" font-family="Liberation Sans, sans-serif" font-size="6.4" fill="#505050" textLength="11.8" lengthAdjust="spacingAndGlyphs">1549</text>
<text x="63.63" y="334.70" font-family="Liberation Sans, sans-serif" font-size="6.4" fill="#505050" textLength="11.8" lengthAdjust="spacingAndGlyphs">1550</text>
<text x="82.00" y="334.70" font-family="Liberation Sans, sans-serif" font-size="6.4" fill="#505050" textLength="11.8" lengthAdjust="spacingAndGlyphs">1551</text>
<text x="100.37" y="334.70" font-family="Liberation Sans, sans-serif" font-size="6.4" fill="#505050" textLength="11.8" lengthAdjust="spacingAndGlyphs">1552</text>
<text x="118.73" y="334.70" font-family="Liberation Sans, sans-serif" font-size="6.4" fill="#505050" textLength="11.8" lengthAdjust="spacingAndGlyphs">1553</text>
<text x="137.10" y="334.70" font-family="Liberation Sans, sans-serif" font-size="6.4" fill="#505050" textLength="11.8" lengthAdjust="spacingAndGlyphs">1554</text>
<text x="71.55" y="239.30" font-family="Liberation Serif, serif" font-size="8.7" fill="#111" textLength="29.9" lengthAdjust="spacingAndGlyphs"><tspan font-style="italic">L</tspan> = 0 mm</text>
<rect x="165.95" y="244.10" width="110.20" height="82.00" stroke="#999" stroke-width="1.2" fill="none"/>
<path d="M165.95,325.70v1.7M165.95,244.50v-1.7M184.32,325.70v1.7M184.32,244.50v-1.7M202.68,325.70v1.7M202.68,244.50v-1.7M221.05,325.70v1.7M221.05,244.50v-1.7M239.42,325.70v1.7M239.42,244.50v-1.7M257.78,325.70v1.7M257.78,244.50v-1.7M276.15,325.70v1.7M276.15,244.50v-1.7M166.35,244.10h-1.7M275.75,244.10h1.7M166.35,260.50h-1.7M275.75,260.50h1.7M166.35,276.90h-1.7M275.75,276.90h1.7M166.35,293.30h-1.7M275.75,293.30h1.7M166.35,309.70h-1.7M275.75,309.70h1.7M166.35,326.10h-1.7M275.75,326.10h1.7" stroke="#666" stroke-width="0.9" fill="none"/>
<path d="M165.95,325.86 L166.29,325.63 L166.73,325.16 L167.26,325.28 L167.85,325.31 L168.48,325.18 L169.12,325.38 L169.77,325.53 L170.39,325.67 L170.96,325.78 L171.46,325.03 L171.91,325.01 L172.34,325.33 L172.75,325.20 L173.15,325.74 L173.53,325.94 L173.88,325.87 L174.22,325.34 L174.55,326.10 L174.85,325.63 L175.13,325.73 L175.39,324.83 L175.62,324.88 L175.82,324.41 L176.00,323.76 L176.17,323.00 L176.32,322.13 L176.48,322.01 L176.63,320.88 L176.79,321.22 L176.97,320.62 L177.15,320.47 L177.33,320.14 L177.50,319.09 L177.67,318.90 L177.84,319.30 L178.02,319.09 L178.20,318.65 L178.39,318.12 L178.59,317.90 L178.81,317.86 L179.04,317.93 L179.29,318.35 L179.55,317.98 L179.83,318.15 L180.10,317.74 L180.38,317.68 L180.65,318.14 L180.91,318.15 L181.15,317.66 L181.38,318.69 L181.58,318.03 L181.77,318.22 L181.95,318.50 L182.12,319.53 L182.28,319.76 L182.44,320.16 L182.59,320.55 L182.74,320.60 L182.88,321.37 L183.03,322.23 L183.18,322.01 L183.33,322.89 L183.47,323.22 L183.62,323.56 L183.75,324.86 L183.89,324.43 L184.01,324.98 L184.12,325.55 L184.23,325.83 L184.32,326.10 L184.38,326.10 L184.42,326.10 L184.44,326.10 L184.45,326.10 L184.45,326.10 L184.46,326.10 L184.48,326.10 L184.52,326.10 L184.58,326.10 L184.68,326.10 L184.82,324.49 L184.98,323.06 L185.17,321.80 L185.37,319.28 L185.59,317.10 L185.82,314.84 L186.05,311.81 L186.27,308.89 L186.49,307.17 L186.70,304.27 L186.91,302.22 L187.11,300.52 L187.31,297.27 L187.51,295.13 L187.71,292.34 L187.92,290.22 L188.12,287.93 L188.32,286.26 L188.52,283.77 L188.72,281.90 L188.93,280.47 L189.12,279.63 L189.32,278.10 L189.52,277.37 L189.71,277.10 L189.91,276.37 L190.11,275.51 L190.32,274.54 L190.53,273.84 L190.74,272.48 L190.97,271.39 L191.19,271.06 L191.41,270.72 L191.64,269.85 L191.87,269.97 L192.11,269.21 L192.35,268.15 L192.60,268.12 L192.86,267.73 L193.13,265.55 L193.42,264.65 L193.73,263.75 L194.06,262.03 L194.39,259.94 L194.73,257.98 L195.06,256.84 L195.39,255.61 L195.70,253.90 L195.99,251.90 L196.26,252.42 L196.49,251.71 L196.70,252.29 L196.90,252.65 L197.08,253.34 L197.25,253.76 L197.42,255.16 L197.58,256.54 L197.74,257.65 L197.91,258.88 L198.09,259.70 L198.28,261.94 L198.46,263.72 L198.65,264.86 L198.84,266.94 L199.02,268.54 L199.21,271.83 L199.39,273.42 L199.57,275.61 L199.75,278.10 L199.93,279.07 L200.10,281.96 L200.26,284.18 L200.43,285.85 L200.59,288.32 L200.74,289.90 L200.90,292.28 L201.06,294.54 L201.23,296.54 L201.40,297.58 L201.58,299.79 L201.77,300.77 L201.95,302.63 L202.14,303.50 L202.34,305.55 L202.53,306.87 L202.74,308.03 L202.94,308.53 L203.16,309.80 L203.38,311.14 L203.60,312.38 L203.83,312.59 L204.06,313.06 L204.30,314.23 L204.54,315.57 L204.78,316.14 L205.04,316.64 L205.30,317.07 L205.58,317.72 L205.87,318.19 L206.17,317.97 L206.50,318.14 L206.84,319.35 L207.19,318.83 L207.56,319.74 L207.94,319.67 L208.32,319.83 L208.71,320.08 L209.09,321.38 L209.47,321.32 L209.85,321.22 L210.21,321.07 L210.58,322.26 L210.95,322.21 L211.32,321.75 L211.68,322.75 L212.05,322.60 L212.42,322.82 L212.78,322.58 L213.15,322.47 L213.52,323.52 L213.89,323.08 L214.28,323.32 L214.67,323.44 L215.07,324.01 L215.46,323.83 L215.84,324.71 L216.21,324.87 L216.56,325.28 L216.89,324.82 L217.19,325.30 L217.47,325.64 L217.74,325.82 L217.98,325.23 L218.22,325.37 L218.43,325.25 L218.63,325.61 L218.81,325.48 L218.97,325.85 L219.10,325.20 L219.21,325.99" stroke="#1a1a1a" stroke-width="1.1" fill="none" stroke-linejoin="round"/>
<path d="M219.21,325.44 L219.76,325.28 L220.32,324.92 L220.87,325.02 L221.42,325.73 L221.97,325.56 L222.52,324.82 L223.07,325.06 L223.62,324.77 L224.17,324.78 L224.72,325.30 L225.27,324.75 L225.83,324.95 L226.38,325.44 L226.93,325.40 L227.48,325.77 L228.03,325.36 L228.58,324.68 L229.13,325.72 L229.68,325.15 L230.23,325.72 L230.78,325.75 L231.34,325.06 L231.89,325.56 L232.44,325.79 L232.99,325.67 L233.54,325.06 L234.09,325.13 L234.64,325.84 L235.19,325.57 L235.74,324.66 L236.29,325.58 L236.85,325.16 L237.40,325.34 L237.95,324.89 L238.50,325.11 L239.05,324.88 L239.60,325.20 L240.15,325.62 L240.70,325.64 L241.25,325.76 L241.80,324.84 L242.36,325.72 L242.91,325.82 L243.46,324.67 L244.01,325.61 L244.56,324.76 L245.11,325.75 L245.66,325.28 L246.21,325.58 L246.76,324.83 L247.31,325.10 L247.87,325.06 L248.42,324.92 L248.97,324.78 L249.52,325.43 L250.07,325.11 L250.62,325.31 L251.17,325.72 L251.72,324.83 L252.27,325.12 L252.82,324.85 L253.38,325.60 L253.93,325.19 L254.48,325.28 L255.03,324.96 L255.58,325.76 L256.13,325.43 L256.68,325.26 L257.23,325.77 L257.78,325.17 L258.33,324.95 L258.89,325.33 L259.44,325.06 L259.99,325.11 L260.54,325.59 L261.09,325.42 L261.64,324.63 L262.19,325.44 L262.74,325.32 L263.29,325.75 L263.84,325.59 L264.40,325.65 L264.95,324.71 L265.50,324.96 L266.05,324.78 L266.60,324.64 L267.15,325.10 L267.70,324.71 L268.25,325.20 L268.80,325.34 L269.35,324.69 L269.91,324.74 L270.46,324.69 L271.01,325.26 L271.56,324.90 L272.11,325.35 L272.66,324.63 L273.21,324.72 L273.76,325.49 L274.31,324.70 L274.86,325.63 L275.42,325.74 L275.97,324.97 L276.15,325.49" stroke="#222" stroke-width="0.85" fill="none" stroke-linejoin="round"/>
<text x="154.45" y="246.80" font-family="Liberation Sans, sans-serif" font-size="6.4" fill="#505050" textLength="8.4" lengthAdjust="spacingAndGlyphs">100</text>
<text x="156.85" y="263.20" font-family="Liberation Sans, sans-serif" font-size="6.4" fill="#505050" textLength="6.0" lengthAdjust="spacingAndGlyphs">80</text>
<text x="156.85" y="279.60" font-family="Liberation Sans, sans-serif" font-size="6.4" fill="#505050" textLength="6.0" lengthAdjust="spacingAndGlyphs">60</text>
<text x="156.85" y="296.00" font-family="Liberation Sans, sans-serif" font-size="6.4" fill="#505050" textLength="6.0" lengthAdjust="spacingAndGlyphs">40</text>
<text x="156.85" y="312.40" font-family="Liberation Sans, sans-serif" font-size="6.4" fill="#505050" textLength="6.0" lengthAdjust="spacingAndGlyphs">20</text>
<text x="160.35" y="328.80" font-family="Liberation Sans, sans-serif" font-size="6.4" fill="#505050" textLength="3.0" lengthAdjust="spacingAndGlyphs">0</text>
<text x="160.35" y="334.70" font-family="Liberation Sans, sans-serif" font-size="6.4" fill="#505050" textLength="11.8" lengthAdjust="spacingAndGlyphs">1548</text>
<text x="178.72" y="334.70" font-family="Liberation Sans, sans-serif" font-size="6.4" fill="#505050" textLength="11.8" lengthAdjust="spacingAndGlyphs">1549</text>
<text x="197.08" y="334.70" font-family="Liberation Sans, sans-serif" font-size="6.4" fill="#505050" textLength="11.8" lengthAdjust="spacingAndGlyphs">1550</text>
<text x="215.45" y="334.70" font-family="Liberation Sans, sans-serif" font-size="6.4" fill="#505050" textLength="11.8" lengthAdjust="spacingAndGlyphs">1551</text>
<text x="233.82" y="334.70" font-family="Liberation Sans, sans-serif" font-size="6.4" fill="#505050" textLength="11.8" lengthAdjust="spacingAndGlyphs">1552</text>
<text x="252.18" y="334.70" font-family="Liberation Sans, sans-serif" font-size="6.4" fill="#505050" textLength="11.8" lengthAdjust="spacingAndGlyphs">1553</text>
<text x="270.55" y="334.70" font-family="Liberation Sans, sans-serif" font-size="6.4" fill="#505050" textLength="11.8" lengthAdjust="spacingAndGlyphs">1554</text>
<text x="202.35" y="239.30" font-family="Liberation Serif, serif" font-size="8.7" fill="#111" textLength="39.7" lengthAdjust="spacingAndGlyphs"><tspan font-style="italic">L</tspan> = 0.16 mm</text>
<rect x="299.50" y="244.10" width="110.20" height="82.00" stroke="#999" stroke-width="1.2" fill="none"/>
<path d="M299.50,325.70v1.7M299.50,244.50v-1.7M317.87,325.70v1.7M317.87,244.50v-1.7M336.23,325.70v1.7M336.23,244.50v-1.7M354.60,325.70v1.7M354.60,244.50v-1.7M372.97,325.70v1.7M372.97,244.50v-1.7M391.33,325.70v1.7M391.33,244.50v-1.7M409.70,325.70v1.7M409.70,244.50v-1.7M299.90,244.10h-1.7M409.30,244.10h1.7M299.90,260.50h-1.7M409.30,260.50h1.7M299.90,276.90h-1.7M409.30,276.90h1.7M299.90,293.30h-1.7M409.30,293.30h1.7M299.90,309.70h-1.7M409.30,309.70h1.7M299.90,326.10h-1.7M409.30,326.10h1.7" stroke="#666" stroke-width="0.9" fill="none"/>
<path d="M299.50,325.42 L299.84,325.27 L300.29,325.94 L300.82,325.12 L301.42,325.63 L302.06,325.43 L302.71,325.51 L303.36,325.03 L303.97,325.01 L304.53,325.53 L305.01,325.74 L305.42,325.53 L305.80,325.46 L306.15,325.93 L306.47,325.93 L306.77,325.32 L307.05,325.45 L307.32,325.16 L307.59,325.14 L307.86,325.17 L308.13,325.59 L308.40,325.58 L308.65,325.07 L308.90,324.49 L309.13,323.97 L309.36,323.46 L309.59,323.17 L309.81,322.10 L310.04,322.27 L310.28,321.62 L310.52,320.74 L310.77,320.45 L311.02,320.63 L311.28,320.28 L311.54,319.23 L311.79,319.77 L312.05,319.29 L312.31,318.54 L312.57,318.30 L312.83,318.58 L313.09,318.66 L313.35,318.54 L313.61,318.02 L313.87,318.59 L314.14,318.28 L314.40,318.84 L314.66,318.99 L314.92,320.47 L315.17,320.72 L315.42,321.33 L315.66,321.26 L315.91,321.80 L316.15,322.64 L316.40,322.62 L316.65,323.71 L316.89,324.05 L317.12,324.69 L317.34,324.58 L317.54,325.49 L317.71,326.07 L317.87,326.10 L317.98,326.10 L318.06,326.10 L318.10,326.10 L318.13,326.10 L318.14,326.10 L318.16,326.10 L318.18,326.10 L318.23,326.10 L318.30,326.10 L318.42,326.09 L318.57,324.45 L318.76,323.14 L318.97,321.53 L319.21,319.50 L319.45,317.35 L319.70,314.19 L319.95,311.40 L320.19,308.91 L320.42,307.01 L320.62,304.51 L320.81,301.99 L320.98,299.86 L321.15,297.81 L321.30,295.72 L321.46,293.29 L321.61,291.40 L321.77,289.13 L321.93,286.36 L322.10,283.87 L322.27,282.34 L322.46,280.50 L322.66,278.58 L322.85,276.52 L323.06,274.00 L323.26,272.73 L323.47,270.07 L323.68,269.75 L323.89,267.88 L324.09,266.06 L324.29,264.92 L324.50,262.98 L324.70,261.99 L324.91,260.90 L325.12,260.64 L325.33,260.93 L325.53,259.35 L325.74,258.81 L325.93,258.37 L326.13,258.20 L326.32,256.94 L326.49,256.09 L326.65,257.03 L326.81,255.65 L326.96,255.80 L327.11,255.23 L327.26,254.30 L327.42,253.95 L327.58,254.30 L327.77,254.91 L327.97,253.54 L328.19,254.74 L328.43,254.37 L328.68,253.63 L328.94,254.58 L329.21,254.76 L329.48,253.73 L329.75,253.90 L330.02,255.16 L330.29,255.23 L330.54,255.63 L330.79,256.15 L331.03,256.30 L331.26,255.45 L331.50,257.45 L331.73,257.64 L331.97,258.12 L332.20,258.70 L332.44,258.23 L332.68,258.05 L332.93,257.95 L333.18,258.23 L333.44,257.71 L333.71,258.82 L333.99,257.97 L334.26,256.38 L334.53,257.46 L334.79,256.65 L335.04,255.83 L335.28,255.78 L335.50,254.93 L335.70,255.39 L335.88,254.58 L336.05,252.81 L336.21,253.66 L336.36,251.84 L336.51,252.65 L336.66,250.91 L336.81,251.27 L336.98,251.32 L337.15,252.42 L337.34,253.03 L337.53,252.46 L337.73,254.27 L337.93,255.19 L338.14,255.17 L338.35,256.26 L338.55,258.93 L338.76,258.68 L338.97,260.78 L339.17,262.42 L339.38,264.34 L339.58,265.40 L339.79,266.01 L340.00,268.93 L340.21,270.95 L340.41,272.75 L340.61,274.63 L340.81,276.11 L341.01,277.26 L341.19,280.09 L341.37,281.87 L341.54,283.00 L341.71,284.98 L341.87,287.08 L342.03,290.01 L342.19,291.97 L342.35,293.32 L342.51,295.84 L342.67,297.50 L342.85,299.75 L343.02,301.82 L343.20,303.15 L343.38,304.37 L343.57,305.96 L343.75,307.78 L343.94,309.40 L344.13,310.74 L344.31,312.18 L344.50,313.30 L344.68,314.07 L344.86,315.78 L345.04,316.18 L345.21,316.52 L345.38,317.26 L345.55,318.60 L345.73,318.21 L345.91,318.82 L346.10,320.05 L346.31,320.40 L346.52,320.95 L346.75,321.60 L346.99,321.01 L347.24,322.10 L347.50,321.99 L347.77,323.25 L348.04,323.74 L348.31,323.10 L348.58,323.50 L348.84,323.56 L349.09,324.17 L349.35,324.57 L349.62,324.48 L349.90,325.40 L350.17,325.00 L350.44,325.21 L350.70,325.63 L350.94,325.17 L351.16,325.55 L351.34,325.39 L351.48,325.59" stroke="#1a1a1a" stroke-width="1.1" fill="none" stroke-linejoin="round"/>
<path d="M351.48,325.44 L352.03,325.46 L352.58,325.41 L353.13,325.11 L353.68,324.65 L354.23,324.70 L354.78,324.79 L355.33,324.83 L355.89,325.50 L356.44,324.65 L356.99,325.52 L357.54,325.70 L358.09,325.24 L358.64,324.95 L359.19,325.43 L359.74,325.06 L360.29,325.51 L360.84,324.66 L361.40,325.30 L361.95,325.27 L362.50,325.20 L363.05,324.78 L363.60,324.64 L364.15,325.20 L364.70,325.31 L365.25,325.09 L365.80,325.77 L366.35,325.33 L366.91,324.81 L367.46,324.90 L368.01,325.78 L368.56,324.80 L369.11,325.38 L369.66,324.65 L370.21,325.40 L370.76,325.59 L371.31,325.18 L371.86,324.77 L372.42,325.32 L372.97,324.79 L373.52,324.98 L374.07,325.41 L374.62,325.48 L375.17,325.23 L375.72,325.36 L376.27,325.40 L376.82,325.05 L377.37,324.78 L377.93,325.14 L378.48,325.67 L379.03,325.58 L379.58,325.40 L380.13,325.10 L380.68,325.68 L381.23,325.75 L381.78,325.46 L382.33,325.51 L382.88,325.82 L383.44,325.19 L383.99,324.72 L384.54,325.20 L385.09,324.95 L385.64,324.84 L386.19,324.82 L386.74,324.73 L387.29,325.31 L387.84,325.01 L388.39,325.71 L388.95,324.77 L389.50,325.39 L390.05,325.27 L390.60,324.76 L391.15,325.50 L391.70,325.62 L392.25,324.84 L392.80,325.12 L393.35,325.75 L393.90,325.82 L394.46,325.42 L395.01,325.84 L395.56,324.83 L396.11,325.63 L396.66,325.52 L397.21,325.38 L397.76,325.22 L398.31,325.32 L398.86,325.08 L399.41,325.04 L399.97,325.32 L400.52,325.73 L401.07,324.65 L401.62,325.00 L402.17,325.75 L402.72,325.31 L403.27,324.93 L403.82,324.63 L404.37,325.77 L404.92,325.84 L405.48,325.26 L406.03,325.33 L406.58,324.75 L407.13,324.84 L407.68,325.45 L408.23,325.34 L408.78,325.14 L409.33,324.77 L409.70,325.61" stroke="#222" stroke-width="0.85" fill="none" stroke-linejoin="round"/>
<text x="288.00" y="246.80" font-family="Liberation Sans, sans-serif" font-size="6.4" fill="#505050" textLength="8.4" lengthAdjust="spacingAndGlyphs">100</text>
<text x="290.40" y="263.20" font-family="Liberation Sans, sans-serif" font-size="6.4" fill="#505050" textLength="6.0" lengthAdjust="spacingAndGlyphs">80</text>
<text x="290.40" y="279.60" font-family="Liberation Sans, sans-serif" font-size="6.4" fill="#505050" textLength="6.0" lengthAdjust="spacingAndGlyphs">60</text>
<text x="290.40" y="296.00" font-family="Liberation Sans, sans-serif" font-size="6.4" fill="#505050" textLength="6.0" lengthAdjust="spacingAndGlyphs">40</text>
<text x="290.40" y="312.40" font-family="Liberation Sans, sans-serif" font-size="6.4" fill="#505050" textLength="6.0" lengthAdjust="spacingAndGlyphs">20</text>
<text x="293.90" y="328.80" font-family="Liberation Sans, sans-serif" font-size="6.4" fill="#505050" textLength="3.0" lengthAdjust="spacingAndGlyphs">0</text>
<text x="293.90" y="334.70" font-family="Liberation Sans, sans-serif" font-size="6.4" fill="#505050" textLength="11.8" lengthAdjust="spacingAndGlyphs">1548</text>
<text x="312.27" y="334.70" font-family="Liberation Sans, sans-serif" font-size="6.4" fill="#505050" textLength="11.8" lengthAdjust="spacingAndGlyphs">1549</text>
<text x="330.63" y="334.70" font-family="Liberation Sans, sans-serif" font-size="6.4" fill="#505050" textLength="11.8" lengthAdjust="spacingAndGlyphs">1550</text>
<text x="349.00" y="334.70" font-family="Liberation Sans, sans-serif" font-size="6.4" fill="#505050" textLength="11.8" lengthAdjust="spacingAndGlyphs">1551</text>
<text x="367.37" y="334.70" font-family="Liberation Sans, sans-serif" font-size="6.4" fill="#505050" textLength="11.8" lengthAdjust="spacingAndGlyphs">1552</text>
<text x="385.73" y="334.70" font-family="Liberation Sans, sans-serif" font-size="6.4" fill="#505050" textLength="11.8" lengthAdjust="spacingAndGlyphs">1553</text>
<text x="404.10" y="334.70" font-family="Liberation Sans, sans-serif" font-size="6.4" fill="#505050" textLength="11.8" lengthAdjust="spacingAndGlyphs">1554</text>
<text x="334.75" y="239.30" font-family="Liberation Serif, serif" font-size="8.7" fill="#111" textLength="39.7" lengthAdjust="spacingAndGlyphs"><tspan font-style="italic">L</tspan> = 0.24 mm</text>
<rect x="432.50" y="244.10" width="110.20" height="82.00" stroke="#999" stroke-width="1.2" fill="none"/>
<path d="M432.50,325.70v1.7M432.50,244.50v-1.7M450.87,325.70v1.7M450.87,244.50v-1.7M469.23,325.70v1.7M469.23,244.50v-1.7M487.60,325.70v1.7M487.60,244.50v-1.7M505.97,325.70v1.7M505.97,244.50v-1.7M524.33,325.70v1.7M524.33,244.50v-1.7M542.70,325.70v1.7M542.70,244.50v-1.7M432.90,244.10h-1.7M542.30,244.10h1.7M432.90,260.50h-1.7M542.30,260.50h1.7M432.90,276.90h-1.7M542.30,276.90h1.7M432.90,293.30h-1.7M542.30,293.30h1.7M432.90,309.70h-1.7M542.30,309.70h1.7M432.90,326.10h-1.7M542.30,326.10h1.7" stroke="#666" stroke-width="0.9" fill="none"/>
<path d="M432.50,325.57 L432.83,325.91 L433.27,325.25 L433.78,325.94 L434.36,324.88 L434.98,325.32 L435.62,325.25 L436.26,325.79 L436.89,325.60 L437.48,325.32 L438.01,324.87 L438.51,325.26 L439.00,325.62 L439.49,324.92 L439.98,325.39 L440.44,325.64 L440.89,326.08 L441.32,326.00 L441.72,325.28 L442.09,326.06 L442.42,325.41 L442.71,324.99 L442.95,324.87 L443.16,323.88 L443.34,323.14 L443.50,322.59 L443.64,322.11 L443.78,322.13 L443.93,321.74 L444.08,320.82 L444.25,320.58 L444.44,320.41 L444.62,319.38 L444.81,319.93 L444.99,319.07 L445.17,318.80 L445.36,319.63 L445.54,318.63 L445.72,319.15 L445.91,319.29 L446.09,319.24 L446.27,319.34 L446.46,318.73 L446.64,318.78 L446.82,318.19 L447.00,318.16 L447.18,319.04 L447.36,318.66 L447.55,318.74 L447.74,319.09 L447.93,319.17 L448.12,319.39 L448.32,319.21 L448.53,319.98 L448.73,320.65 L448.94,320.97 L449.14,321.17 L449.35,321.49 L449.55,322.30 L449.75,322.21 L449.95,323.15 L450.15,322.99 L450.35,323.44 L450.56,324.33 L450.78,324.05 L450.98,324.83 L451.18,325.01 L451.36,325.27 L451.53,325.52 L451.67,325.97 L451.78,326.10 L451.86,325.99 L451.90,326.10 L451.92,326.10 L451.91,326.10 L451.89,326.10 L451.87,326.10 L451.86,326.10 L451.86,326.10 L451.90,326.10 L451.97,325.54 L452.07,325.15 L452.21,322.99 L452.36,321.90 L452.52,320.36 L452.70,317.70 L452.89,315.97 L453.08,313.30 L453.27,311.24 L453.45,309.57 L453.62,306.96 L453.79,304.46 L453.95,302.67 L454.11,300.32 L454.27,297.62 L454.43,295.75 L454.59,293.37 L454.75,290.96 L454.92,288.45 L455.09,287.00 L455.27,285.07 L455.46,282.32 L455.66,280.59 L455.85,278.94 L456.06,276.14 L456.26,274.32 L456.47,273.15 L456.68,270.71 L456.89,269.41 L457.09,268.11 L457.29,267.58 L457.50,266.91 L457.69,264.75 L457.89,263.77 L458.09,263.66 L458.28,262.76 L458.48,261.98 L458.68,261.94 L458.89,260.60 L459.10,260.26 L459.32,259.96 L459.54,259.83 L459.76,258.48 L459.99,258.33 L460.22,257.10 L460.45,257.54 L460.69,256.68 L460.93,256.56 L461.18,255.75 L461.44,255.03 L461.70,255.44 L461.98,255.12 L462.26,253.97 L462.56,254.05 L462.86,253.14 L463.16,253.36 L463.47,253.15 L463.77,252.13 L464.07,251.26 L464.36,251.22 L464.64,251.78 L464.91,252.03 L465.18,252.73 L465.45,252.58 L465.71,252.79 L465.96,252.03 L466.22,253.81 L466.47,252.77 L466.72,253.98 L466.96,254.47 L467.21,255.17 L467.46,254.41 L467.69,256.27 L467.92,256.18 L468.15,256.89 L468.37,258.04 L468.60,258.59 L468.84,257.82 L469.08,258.63 L469.33,259.10 L469.60,259.07 L469.89,260.56 L470.20,259.49 L470.52,259.27 L470.86,259.96 L471.20,259.31 L471.53,258.16 L471.86,259.04 L472.17,258.12 L472.46,259.06 L472.72,258.24 L472.96,259.04 L473.17,258.75 L473.36,259.12 L473.54,258.44 L473.71,258.90 L473.87,259.64 L474.04,259.75 L474.20,260.74 L474.37,260.77 L474.56,262.56 L474.76,263.08 L474.95,264.19 L475.16,265.84 L475.36,267.87 L475.57,269.20 L475.78,270.01 L475.98,272.43 L476.18,273.21 L476.38,275.39 L476.58,276.63 L476.77,278.56 L476.97,280.62 L477.17,283.04 L477.36,285.50 L477.56,287.01 L477.74,288.89 L477.93,290.76 L478.10,293.60 L478.26,295.58 L478.42,296.44 L478.55,298.43 L478.67,300.39 L478.77,301.71 L478.87,303.96 L478.96,305.02 L479.05,306.35 L479.14,307.84 L479.25,309.72 L479.37,311.06 L479.52,311.77 L479.68,312.70 L479.87,314.73 L480.06,316.02 L480.27,317.02 L480.48,317.25 L480.70,318.69 L480.92,319.53 L481.13,319.77 L481.34,320.99 L481.54,322.11 L481.74,322.24 L481.95,323.59 L482.16,323.75 L482.38,323.68 L482.58,324.64 L482.78,325.10 L482.97,324.80 L483.13,325.25 L483.27,324.72 L483.38,325.90" stroke="#1a1a1a" stroke-width="1.1" fill="none" stroke-linejoin="round"/>
<path d="M483.38,325.44 L483.93,324.87 L484.48,325.38 L485.03,324.86 L485.58,325.31 L486.13,325.03 L486.68,325.45 L487.23,325.58 L487.78,325.30 L488.33,324.87 L488.89,325.43 L489.44,325.57 L489.99,325.34 L490.54,325.74 L491.09,325.47 L491.64,325.15 L492.19,325.18 L492.74,325.12 L493.29,325.50 L493.84,325.82 L494.40,325.82 L494.95,325.44 L495.50,325.61 L496.05,325.15 L496.60,325.53 L497.15,324.92 L497.70,325.11 L498.25,325.04 L498.80,324.95 L499.35,325.21 L499.91,325.33 L500.46,325.47 L501.01,325.78 L501.56,324.88 L502.11,325.24 L502.66,325.73 L503.21,324.71 L503.76,325.14 L504.31,325.09 L504.86,325.31 L505.42,325.70 L505.97,324.62 L506.52,325.65 L507.07,325.40 L507.62,324.62 L508.17,325.70 L508.72,325.24 L509.27,325.26 L509.82,325.55 L510.37,324.72 L510.93,325.34 L511.48,325.84 L512.03,325.27 L512.58,325.85 L513.13,324.98 L513.68,324.79 L514.23,324.74 L514.78,325.80 L515.33,325.02 L515.88,325.48 L516.44,325.27 L516.99,325.48 L517.54,325.48 L518.09,325.69 L518.64,325.08 L519.19,325.75 L519.74,324.67 L520.29,325.80 L520.84,324.67 L521.39,325.62 L521.95,325.75 L522.50,324.94 L523.05,325.20 L523.60,324.91 L524.15,325.23 L524.70,325.08 L525.25,325.75 L525.80,325.03 L526.35,325.22 L526.90,324.67 L527.46,325.85 L528.01,325.77 L528.56,325.02 L529.11,324.71 L529.66,325.34 L530.21,324.98 L530.76,325.16 L531.31,325.37 L531.86,325.28 L532.41,325.11 L532.97,325.82 L533.52,325.48 L534.07,324.95 L534.62,325.54 L535.17,325.27 L535.72,325.54 L536.27,325.41 L536.82,325.05 L537.37,324.94 L537.92,324.68 L538.48,325.27 L539.03,325.60 L539.58,325.44 L540.13,325.78 L540.68,325.56 L541.23,325.14 L541.78,325.10 L542.33,325.56 L542.70,325.63" stroke="#222" stroke-width="0.85" fill="none" stroke-linejoin="round"/>
<text x="421.00" y="246.80" font-family="Liberation Sans, sans-serif" font-size="6.4" fill="#505050" textLength="8.4" lengthAdjust="spacingAndGlyphs">100</text>
<text x="423.40" y="263.20" font-family="Liberation Sans, sans-serif" font-size="6.4" fill="#505050" textLength="6.0" lengthAdjust="spacingAndGlyphs">80</text>
<text x="423.40" y="279.60" font-family="Liberation Sans, sans-serif" font-size="6.4" fill="#505050" textLength="6.0" lengthAdjust="spacingAndGlyphs">60</text>
<text x="423.40" y="296.00" font-family="Liberation Sans, sans-serif" font-size="6.4" fill="#505050" textLength="6.0" lengthAdjust="spacingAndGlyphs">40</text>
<text x="423.40" y="312.40" font-family="Liberation Sans, sans-serif" font-size="6.4" fill="#505050" textLength="6.0" lengthAdjust="spacingAndGlyphs">20</text>
<text x="426.90" y="328.80" font-family="Liberation Sans, sans-serif" font-size="6.4" fill="#505050" textLength="3.0" lengthAdjust="spacingAndGlyphs">0</text>
<text x="426.90" y="334.70" font-family="Liberation Sans, sans-serif" font-size="6.4" fill="#505050" textLength="11.8" lengthAdjust="spacingAndGlyphs">1548</text>
<text x="445.27" y="334.70" font-family="Liberation Sans, sans-serif" font-size="6.4" fill="#505050" textLength="11.8" lengthAdjust="spacingAndGlyphs">1549</text>
<text x="463.63" y="334.70" font-family="Liberation Sans, sans-serif" font-size="6.4" fill="#505050" textLength="11.8" lengthAdjust="spacingAndGlyphs">1550</text>
<text x="482.00" y="334.70" font-family="Liberation Sans, sans-serif" font-size="6.4" fill="#505050" textLength="11.8" lengthAdjust="spacingAndGlyphs">1551</text>
<text x="500.37" y="334.70" font-family="Liberation Sans, sans-serif" font-size="6.4" fill="#505050" textLength="11.8" lengthAdjust="spacingAndGlyphs">1552</text>
<text x="518.73" y="334.70" font-family="Liberation Sans, sans-serif" font-size="6.4" fill="#505050" textLength="11.8" lengthAdjust="spacingAndGlyphs">1553</text>
<text x="537.10" y="334.70" font-family="Liberation Sans, sans-serif" font-size="6.4" fill="#505050" textLength="11.8" lengthAdjust="spacingAndGlyphs">1554</text>
<text x="465.70" y="239.30" font-family="Liberation Serif, serif" font-size="8.7" fill="#111" textLength="35.8" lengthAdjust="spacingAndGlyphs"><tspan font-style="italic">L</tspan> = 0.3 mm</text>
<rect x="565.50" y="244.10" width="110.20" height="82.00" stroke="#999" stroke-width="1.2" fill="none"/>
<path d="M565.50,325.70v1.7M565.50,244.50v-1.7M583.87,325.70v1.7M583.87,244.50v-1.7M602.23,325.70v1.7M602.23,244.50v-1.7M620.60,325.70v1.7M620.60,244.50v-1.7M638.97,325.70v1.7M638.97,244.50v-1.7M657.33,325.70v1.7M657.33,244.50v-1.7M675.70,325.70v1.7M675.70,244.50v-1.7M565.90,244.10h-1.7M675.30,244.10h1.7M565.90,260.50h-1.7M675.30,260.50h1.7M565.90,276.90h-1.7M675.30,276.90h1.7M565.90,293.30h-1.7M675.30,293.30h1.7M565.90,309.70h-1.7M675.30,309.70h1.7M565.90,326.10h-1.7M675.30,326.10h1.7" stroke="#666" stroke-width="0.9" fill="none"/>
<path d="M565.50,325.91 L565.84,325.80 L566.28,325.41 L566.80,325.68 L567.39,324.93 L568.01,325.28 L568.66,325.51 L569.30,325.39 L569.93,325.82 L570.50,325.02 L571.01,324.99 L571.47,325.46 L571.90,325.10 L572.32,325.71 L572.72,325.86 L573.11,325.93 L573.48,326.03 L573.84,325.59 L574.19,325.53 L574.53,325.34 L574.87,325.90 L575.19,324.89 L575.49,324.89 L575.77,324.61 L576.05,324.02 L576.31,323.62 L576.57,323.39 L576.83,322.66 L577.09,321.89 L577.35,321.35 L577.62,320.70 L577.90,321.11 L578.18,319.85 L578.45,319.48 L578.73,319.09 L579.01,318.33 L579.29,318.88 L579.56,317.79 L579.84,317.39 L580.11,318.12 L580.38,317.55 L580.64,317.26 L580.91,318.26 L581.17,317.98 L581.43,318.37 L581.69,319.42 L581.94,320.31 L582.20,320.79 L582.45,320.64 L582.70,321.63 L582.95,322.21 L583.20,322.50 L583.47,322.41 L583.75,323.66 L584.02,324.41 L584.29,323.81 L584.55,324.98 L584.79,325.31 L585.00,325.00 L585.19,326.10 L585.34,326.10 L585.44,325.92 L585.49,326.10 L585.50,326.10 L585.49,326.10 L585.46,326.10 L585.43,326.10 L585.41,326.10 L585.41,326.10 L585.44,326.10 L585.52,326.05 L585.64,324.76 L585.78,323.32 L585.95,321.27 L586.14,319.36 L586.35,316.41 L586.56,313.85 L586.77,311.57 L586.97,309.01 L587.17,307.46 L587.36,304.98 L587.53,302.81 L587.70,300.57 L587.86,297.30 L588.02,295.02 L588.18,292.67 L588.34,290.76 L588.51,289.01 L588.67,286.48 L588.84,284.84 L589.01,281.93 L589.19,280.84 L589.36,279.06 L589.55,276.63 L589.73,276.05 L589.92,273.28 L590.10,272.87 L590.29,270.88 L590.48,270.54 L590.66,267.94 L590.85,267.64 L591.03,266.67 L591.20,265.15 L591.37,264.36 L591.55,264.14 L591.72,263.61 L591.90,262.14 L592.08,262.46 L592.27,260.42 L592.47,260.79 L592.68,260.58 L592.91,259.85 L593.15,259.84 L593.41,259.18 L593.67,258.53 L593.93,258.55 L594.20,258.49 L594.47,258.40 L594.74,257.91 L595.00,257.25 L595.25,257.66 L595.50,256.91 L595.74,257.25 L595.98,257.74 L596.21,257.53 L596.45,256.25 L596.68,256.77 L596.92,256.83 L597.16,256.48 L597.40,255.78 L597.64,256.45 L597.89,256.32 L598.14,256.16 L598.39,256.61 L598.64,255.52 L598.89,255.47 L599.15,255.27 L599.41,255.16 L599.67,254.94 L599.94,254.34 L600.21,255.05 L600.50,253.46 L600.79,254.67 L601.10,253.07 L601.41,253.94 L601.72,252.56 L602.02,253.20 L602.33,253.27 L602.62,252.30 L602.89,251.70 L603.15,251.71 L603.39,251.76 L603.61,251.75 L603.81,253.58 L604.01,253.32 L604.20,254.14 L604.38,253.43 L604.57,254.41 L604.76,254.41 L604.96,254.88 L605.17,255.13 L605.40,256.33 L605.62,256.68 L605.86,257.97 L606.09,259.56 L606.33,259.01 L606.57,261.28 L606.82,262.24 L607.06,261.97 L607.31,264.00 L607.56,264.48 L607.81,266.81 L608.07,267.84 L608.32,268.40 L608.58,271.06 L608.85,271.78 L609.11,272.62 L609.37,275.45 L609.63,276.18 L609.88,277.81 L610.13,279.47 L610.38,280.79 L610.62,282.36 L610.86,284.63 L611.09,285.92 L611.32,287.02 L611.56,288.02 L611.79,290.38 L612.03,291.44 L612.27,293.46 L612.52,294.13 L612.77,296.10 L613.02,297.53 L613.28,298.89 L613.54,301.04 L613.80,301.89 L614.07,303.32 L614.33,304.75 L614.58,306.88 L614.84,308.37 L615.09,309.84 L615.34,310.38 L615.59,312.30 L615.83,313.76 L616.08,314.99 L616.32,316.12 L616.56,317.85 L616.79,319.03 L617.03,319.66 L617.25,320.65 L617.48,322.07 L617.70,323.06 L617.94,322.69 L618.17,323.41 L618.41,323.98 L618.64,324.52 L618.85,324.16 L619.05,324.98 L619.23,325.42 L619.38,325.73 L619.50,325.61" stroke="#1a1a1a" stroke-width="1.1" fill="none" stroke-linejoin="round"/>
<path d="M619.50,325.44 L620.05,325.12 L620.60,325.41 L621.15,324.69 L621.70,325.05 L622.25,325.29 L622.80,325.04 L623.35,325.11 L623.91,325.09 L624.46,325.24 L625.01,325.21 L625.56,325.25 L626.11,324.83 L626.66,325.62 L627.21,324.89 L627.76,325.49 L628.31,324.81 L628.86,325.76 L629.42,325.26 L629.97,325.31 L630.52,324.98 L631.07,325.61 L631.62,325.53 L632.17,325.69 L632.72,325.16 L633.27,325.14 L633.82,325.85 L634.37,325.64 L634.93,325.61 L635.48,324.68 L636.03,325.29 L636.58,325.16 L637.13,325.50 L637.68,325.04 L638.23,324.85 L638.78,325.03 L639.33,325.85 L639.88,325.31 L640.44,325.25 L640.99,325.80 L641.54,324.88 L642.09,325.46 L642.64,325.49 L643.19,325.08 L643.74,325.13 L644.29,325.24 L644.84,324.80 L645.39,325.22 L645.95,325.43 L646.50,325.77 L647.05,325.17 L647.60,325.41 L648.15,325.19 L648.70,325.43 L649.25,325.85 L649.80,325.81 L650.35,325.66 L650.90,325.74 L651.46,324.81 L652.01,325.14 L652.56,325.56 L653.11,324.98 L653.66,325.07 L654.21,325.78 L654.76,324.93 L655.31,325.57 L655.86,324.63 L656.41,325.68 L656.97,325.50 L657.52,325.55 L658.07,324.79 L658.62,324.85 L659.17,325.14 L659.72,325.67 L660.27,325.33 L660.82,324.99 L661.37,325.78 L661.92,324.72 L662.48,324.82 L663.03,324.71 L663.58,324.99 L664.13,325.09 L664.68,324.65 L665.23,325.53 L665.78,325.48 L666.33,325.70 L666.88,325.63 L667.43,324.87 L667.99,325.74 L668.54,324.94 L669.09,325.37 L669.64,324.77 L670.19,324.92 L670.74,325.01 L671.29,324.81 L671.84,325.80 L672.39,325.53 L672.94,325.40 L673.50,325.33 L674.05,325.03 L674.60,324.77 L675.15,324.94 L675.70,324.71 L675.70,325.00" stroke="#222" stroke-width="0.85" fill="none" stroke-linejoin="round"/>
<text x="554.00" y="246.80" font-family="Liberation Sans, sans-serif" font-size="6.4" fill="#505050" textLength="8.4" lengthAdjust="spacingAndGlyphs">100</text>
<text x="556.40" y="263.20" font-family="Liberation Sans, sans-serif" font-size="6.4" fill="#505050" textLength="6.0" lengthAdjust="spacingAndGlyphs">80</text>
<text x="556.40" y="279.60" font-family="Liberation Sans, sans-serif" font-size="6.4" fill="#505050" textLength="6.0" lengthAdjust="spacingAndGlyphs">60</text>
<text x="556.40" y="296.00" font-family="Liberation Sans, sans-serif" font-size="6.4" fill="#505050" textLength="6.0" lengthAdjust="spacingAndGlyphs">40</text>
<text x="556.40" y="312.40" font-family="Liberation Sans, sans-serif" font-size="6.4" fill="#505050" textLength="6.0" lengthAdjust="spacingAndGlyphs">20</text>
<text x="559.90" y="328.80" font-family="Liberation Sans, sans-serif" font-size="6.4" fill="#505050" textLength="3.0" lengthAdjust="spacingAndGlyphs">0</text>
<text x="559.90" y="334.70" font-family="Liberation Sans, sans-serif" font-size="6.4" fill="#505050" textLength="11.8" lengthAdjust="spacingAndGlyphs">1548</text>
<text x="578.27" y="334.70" font-family="Liberation Sans, sans-serif" font-size="6.4" fill="#505050" textLength="11.8" lengthAdjust="spacingAndGlyphs">1549</text>
<text x="596.63" y="334.70" font-family="Liberation Sans, sans-serif" font-size="6.4" fill="#505050" textLength="11.8" lengthAdjust="spacingAndGlyphs">1550</text>
<text x="615.00" y="334.70" font-family="Liberation Sans, sans-serif" font-size="6.4" fill="#505050" textLength="11.8" lengthAdjust="spacingAndGlyphs">1551</text>
<text x="633.37" y="334.70" font-family="Liberation Sans, sans-serif" font-size="6.4" fill="#505050" textLength="11.8" lengthAdjust="spacingAndGlyphs">1552</text>
<text x="651.73" y="334.70" font-family="Liberation Sans, sans-serif" font-size="6.4" fill="#505050" textLength="11.8" lengthAdjust="spacingAndGlyphs">1553</text>
<text x="670.10" y="334.70" font-family="Liberation Sans, sans-serif" font-size="6.4" fill="#505050" textLength="11.8" lengthAdjust="spacingAndGlyphs">1554</text>
<text x="603.60" y="239.30" font-family="Liberation Serif, serif" font-size="8.7" fill="#111" textLength="35.4" lengthAdjust="spacingAndGlyphs"><tspan font-style="italic">L</tspan> = 0.4 mm</text>
<text transform="translate(5.8,321.00) rotate(-90)" font-family="Liberation Sans, sans-serif" font-weight="bold" font-size="7.0" fill="#000" stroke="#000" stroke-width="0.25" textLength="60.6" lengthAdjust="spacingAndGlyphs">System A - G2/G3</text>
<text transform="translate(13.9,333.40) rotate(-90)" font-family="Liberation Serif, serif" font-size="7.1" fill="#4a4a4a" textLength="89.7" lengthAdjust="spacingAndGlyphs">Power spectral density [nW/nm]</text>
<text x="65.30" y="341.70" font-family="Liberation Serif, serif" font-size="6.8" fill="#555" textLength="44.5" lengthAdjust="spacingAndGlyphs">Wavelength [nm]</text>
<text x="198.75" y="341.70" font-family="Liberation Serif, serif" font-size="6.8" fill="#555" textLength="44.5" lengthAdjust="spacingAndGlyphs">Wavelength [nm]</text>
<text x="332.30" y="341.70" font-family="Liberation Serif, serif" font-size="6.8" fill="#555" textLength="44.5" lengthAdjust="spacingAndGlyphs">Wavelength [nm]</text>
<text x="465.30" y="341.70" font-family="Liberation Serif, serif" font-size="6.8" fill="#555" textLength="44.5" lengthAdjust="spacingAndGlyphs">Wavelength [nm]</text>
<text x="598.30" y="341.70" font-family="Liberation Serif, serif" font-size="6.8" fill="#555" textLength="44.5" lengthAdjust="spacingAndGlyphs">Wavelength [nm]</text>
</svg></body></html>
